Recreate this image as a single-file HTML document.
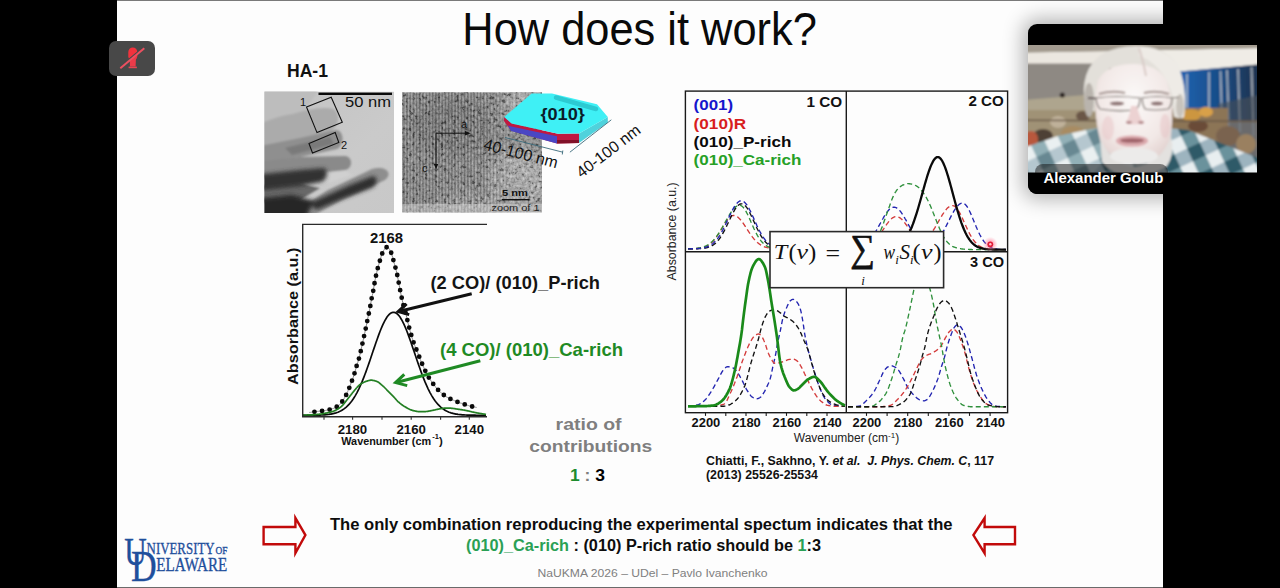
<!DOCTYPE html>
<html><head><meta charset="utf-8"><title>How does it work?</title>
<style>
html,body{margin:0;padding:0;background:#000;width:1280px;height:588px;overflow:hidden;}
#slide{position:absolute;left:117px;top:0;width:1046px;height:588px;background:#fdfdfd;}
#slide .tl{position:absolute;left:0;top:0;width:1046px;height:1px;background:#7a7a7a;}
#slide .bl{position:absolute;left:0;top:587px;width:1046px;height:1px;background:#6a6a6a;}
svg{font-family:'Liberation Sans', Arial, sans-serif;}
#ov{position:absolute;left:0;top:0;}
</style></head>
<body>
<div id="slide"><div class="tl"></div><div class="bl"></div></div>
<svg id="ov" width="1280" height="588" viewBox="0 0 1280 588">
<defs><clipPath id="c1"><rect x="264.4" y="91.6" width="129.6" height="121.4"/></clipPath><filter id="bl1" x="-20%" y="-20%" width="140%" height="140%"><feGaussianBlur stdDeviation="1.3"/></filter><filter id="bl2" x="-20%" y="-20%" width="140%" height="140%"><feGaussianBlur stdDeviation="2.2"/></filter><linearGradient id="t1bg" x1="0" y1="0" x2="1" y2="1"><stop offset="0" stop-color="#c2c2c2"/><stop offset="0.6" stop-color="#cacaca"/><stop offset="1" stop-color="#c8c8c8"/></linearGradient></defs>
<g clip-path="url(#c1)">
<rect x="264.4" y="91.6" width="129.60000000000002" height="121.4" fill="url(#t1bg)"/>
<g filter="url(#bl1)">
<path d="M255 88 L320 88 L300 118 L255 128 Z" fill="#bdbdbd"/>
<path d="M255 126 C270 119 284 115 293 114 C303 111 322 106 333 109 C341 113 339 126 331 131 L300 141 L255 152 Z" fill="#ababab"/>
<path d="M255 147 L300 138 L336 130 C344 130 345 145 337 149 L300 157 L255 164 Z" fill="#8f8f8f"/>
<path d="M285 148 L330 137 L334 144 L292 155 Z" fill="#7a7a7a"/>
<path d="M255 162 L300 157 L345 156 C353 157 353 168 345 170 L300 175 L255 179 Z" fill="#8a8a8a"/>
<path d="M300 178 L346 171 L352 175 L312 188 Z" fill="#d0d0d0"/>
<path d="M255 186 L300 183 L320 188 L300 200 L255 203 Z" fill="#686868"/>
<path d="M288 216 L328 190 L372 169 C387 165 393 174 385 180 L342 200 L312 216 Z" fill="#8e8e8e"/>
</g>
<g filter="url(#bl2)">
<path d="M255 175 L300 170 L324 168 C329 171 327 180 321 182 L300 186 L255 191 Z" fill="#303030"/>
<path d="M255 199 L292 195 L314 201 L306 218 L255 218 Z" fill="#262626"/>
<path d="M310 203 L350 185 L373 176 C379 177 377 186 371 188 L342 199 L316 210 Z" fill="#2e2e2e"/>
</g>
<polygon points="306.5,107 331.2,97.2 342.3,122.2 317,132.6" fill="none" stroke="#111" stroke-width="1.1"/>
<polygon points="309,143.5 335.2,132.5 338.8,142.5 312.5,153" fill="none" stroke="#111" stroke-width="1.1"/>
<text x="300" y="106" font-size="11" font-weight="normal" fill="#111">1</text>
<text x="341" y="149" font-size="11" font-weight="normal" fill="#111">2</text>
<rect x="318.5" y="92.6" width="73.5" height="2.4" fill="#0a0a0a"/>
<text x="345" y="107.2" font-size="14.5" font-weight="normal" fill="#111" textLength="46" lengthAdjust="spacingAndGlyphs">50 nm</text>
</g>
<defs><clipPath id="c2"><rect x="402" y="92.3" width="140" height="120.2"/></clipPath><pattern id="fr" x="0" y="0" width="3.2" height="200" patternUnits="userSpaceOnUse"><rect width="1.3" height="200" fill="#3a3a3a" opacity="0.35"/><rect x="1.6" width="1" height="200" fill="#e0e0e0" opacity="0.18"/></pattern><filter id="nz" x="0" y="0" width="100%" height="100%"><feTurbulence type="fractalNoise" baseFrequency="0.32" numOctaves="2" seed="7"/><feColorMatrix type="matrix" values="1.3 1.3 0 0 -0.9  1.3 1.3 0 0 -0.9  1.3 1.3 0 0 -0.9  0 0 0 0 1"/><feGaussianBlur stdDeviation="0.5"/></filter><filter id="bl3"><feGaussianBlur stdDeviation="6"/></filter><linearGradient id="fmg" x1="0" y1="0" x2="1" y2="0"><stop offset="0" stop-color="#fff"/><stop offset="0.55" stop-color="#fff"/><stop offset="0.85" stop-color="#000"/></linearGradient><mask id="fm" maskUnits="userSpaceOnUse" x="402" y="92" width="140" height="121"><rect x="402" y="92" width="140" height="121" fill="url(#fmg)"/></mask></defs>
<g clip-path="url(#c2)">
<rect x="402" y="92.3" width="140" height="120.2" fill="#7e7e7e"/>
<g filter="url(#bl3)"><ellipse cx="450" cy="125" rx="40" ry="30" fill="#686868"/><ellipse cx="425" cy="185" rx="22" ry="25" fill="#7c7c7c"/><ellipse cx="518" cy="178" rx="30" ry="30" fill="#a8a8a8"/><ellipse cx="525" cy="105" rx="22" ry="18" fill="#a8a8a8"/><ellipse cx="470" cy="205" rx="30" ry="10" fill="#a0a0a0"/></g>
<rect x="402" y="92.3" width="140" height="120.2" filter="url(#nz)" opacity="0.4"/>
<rect x="402" y="92.3" width="140" height="120.2" fill="url(#fr)" mask="url(#fm)"/>
<rect x="402" y="204" width="140" height="9" fill="#dadada" opacity="0.45"/>
<path d="M436 133.2 H468.5 M436 133.2 V166" stroke="#111" stroke-width="1"/>
<path d="M465 131 L470.8 133.2 L465 135.4 Z" fill="#111"/><path d="M433.8 164 L436 169.5 L438.2 164 Z" fill="#111"/>
<text x="461" y="128" font-size="11" fill="#111" font-weight="normal">a</text>
<text x="422" y="172" font-size="11" fill="#111" font-weight="normal">c</text>
<text x="502" y="196" font-size="9.5" fill="#111" font-weight="bold" textLength="26" lengthAdjust="spacingAndGlyphs">5 nm</text>
<rect x="501.8" y="199" width="27.6" height="1.4" fill="#111"/>
<text x="491.5" y="210.8" font-size="9.5" fill="#222" font-weight="normal" textLength="48" lengthAdjust="spacingAndGlyphs">zoom of 1</text>
</g>
<polygon points="504.2,117 504,121 511,130.5 557,143.5 579,143 579,133.5 558,133.8 511.6,123.4" fill="#c01840"/>
<polygon points="507.8,125.6 557,136.2 557,143.5 511,131" fill="#4a46c4"/>
<polygon points="557,140 579,140 579,143 557,143.5" fill="#801028"/>
<polygon points="579,133.5 607.8,117 607.8,122.5 579,143" fill="#4fd2dc"/>
<polygon points="504.2,117 531.7,93.6 552,93.6 597,104.3 607.8,117 579,133.5 558,133.8 511.6,123.4" fill="#3ff0f5"/>
<line x1="556" y1="97.5" x2="596" y2="109" stroke="#2ccad2" stroke-width="4.5" stroke-linecap="round"/>
<text x="540.4" y="119.6" font-size="16" font-weight="bold" fill="#0b1c2a" textLength="44.4" lengthAdjust="spacingAndGlyphs">{010}</text>
<line x1="505" y1="137.5" x2="562.8" y2="152.2" stroke="#3a6a7a" stroke-width="0.9"/><line x1="562.8" y1="150.5" x2="562.3" y2="154.5" stroke="#3a6a7a" stroke-width="0.9"/>
<line x1="569.9" y1="152.2" x2="611.3" y2="119.8" stroke="#3a6a7a" stroke-width="0.9"/>
<text x="0" y="0" font-size="16" fill="#111" font-weight="normal" textLength="76" lengthAdjust="spacingAndGlyphs" transform="translate(482.8 149.2) rotate(14.5)">40-100 nm</text>
<text x="0" y="0" font-size="16" fill="#111" font-weight="normal" textLength="76" lengthAdjust="spacingAndGlyphs" transform="translate(581.5 178.5) rotate(-37.5)">40-100 nm</text>
<path d="M309.2 412.5 L309.7 412.4 L310.2 412.4 L310.7 412.3 L311.2 412.2 L311.7 412.2 L312.2 412.1 L312.7 412.0 L313.2 412.0 L313.7 411.9 L314.2 411.8 L314.7 411.8 L315.2 411.7 L315.7 411.6 L316.2 411.6 L316.7 411.5 L317.2 411.4 L317.7 411.4 L318.2 411.3 L318.7 411.3 L319.2 411.2 L319.7 411.2 L320.2 411.1 L320.7 411.1 L321.2 411.0 L321.7 411.0 L322.2 410.9 L322.7 410.8 L323.2 410.8 L323.7 410.7 L324.2 410.6 L324.7 410.6 L325.2 410.5 L325.7 410.4 L326.2 410.3 L326.7 410.2 L327.2 410.1 L327.7 410.0 L328.2 409.9 L328.7 409.8 L329.2 409.7 L329.7 409.6 L330.2 409.4 L330.7 409.3 L331.2 409.1 L331.7 409.0 L332.2 408.8 L332.7 408.7 L333.2 408.5 L333.7 408.3 L334.2 408.1 L334.7 407.8 L335.2 407.6 L335.7 407.3 L336.2 407.1 L336.7 406.8 L337.2 406.5 L337.7 406.1 L338.2 405.8 L338.7 405.4 L339.2 405.0 L339.7 404.6 L340.2 404.2 L340.7 403.6 L341.2 403.0 L341.7 402.3 L342.2 401.6 L342.7 400.8 L343.2 400.0 L343.7 399.2 L344.2 398.4 L344.7 397.5 L345.2 396.7 L345.7 395.8 L346.2 394.8 L346.7 393.7 L347.2 392.7 L347.7 391.6 L348.2 390.4 L348.7 389.3 L349.2 388.1 L349.7 386.8 L350.2 385.5 L350.7 384.2 L351.2 382.8 L351.7 381.5 L352.2 380.1 L352.7 378.8 L353.2 377.4 L353.7 375.9 L354.2 374.4 L354.7 372.7 L355.2 371.0 L355.7 369.1 L356.2 367.4 L356.7 365.7 L357.2 364.2 L357.7 362.7 L358.2 361.1 L358.7 359.5 L359.2 357.6 L359.7 355.6 L360.2 353.5 L360.7 351.4 L361.2 349.2 L361.7 347.0 L362.2 344.7 L362.7 342.4 L363.2 340.1 L363.7 337.8 L364.2 335.5 L364.7 333.3 L365.2 331.0 L365.7 328.7 L366.2 326.2 L366.7 323.7 L367.2 321.2 L367.7 318.8 L368.2 316.5 L368.7 314.1 L369.2 311.7 L369.7 309.2 L370.2 306.6 L370.7 303.9 L371.2 300.9 L371.7 298.2 L372.2 295.8 L372.7 293.5 L373.2 291.0 L373.7 288.1 L374.2 285.1 L374.7 282.3 L375.2 279.7 L375.7 277.1 L376.2 274.8 L376.7 272.5 L377.2 270.4 L377.7 268.4 L378.2 266.5 L378.7 264.7 L379.2 263.0 L379.7 261.4 L380.2 259.7 L380.7 258.1 L381.2 256.4 L381.7 254.9 L382.2 253.5 L382.7 252.4 L383.2 251.4 L383.7 250.4 L384.2 249.7 L384.7 249.0 L385.2 248.5 L385.7 247.9 L386.2 247.5 L386.7 247.2 L387.2 247.1 L387.7 247.3 L388.2 247.7 L388.7 248.3 L389.2 248.9 L389.7 249.6 L390.2 250.5 L390.7 251.6 L391.2 252.8 L391.7 254.1 L392.2 255.8 L392.7 257.6 L393.2 259.5 L393.7 261.3 L394.2 263.1 L394.7 264.8 L395.2 266.6 L395.7 268.5 L396.2 270.5 L396.7 272.6 L397.2 274.8 L397.7 277.2 L398.2 279.8 L398.7 282.6 L399.2 285.2 L399.7 287.8 L400.2 290.4 L400.7 292.9 L401.2 295.3 L401.7 297.7 L402.2 300.0 L402.7 302.2 L403.2 304.4 L403.7 306.4 L404.2 308.2 L404.7 309.9 L405.2 311.5 L405.7 313.2 L406.2 315.1 L406.7 317.2 L407.2 319.4 L407.7 321.6 L408.2 323.7 L408.7 325.7 L409.2 327.7 L409.7 329.6 L410.2 331.4 L410.7 333.1 L411.2 334.8 L411.7 336.5 L412.2 338.1 L412.7 339.6 L413.2 341.2 L413.7 342.7 L414.2 344.1 L414.7 345.4 L415.2 346.7 L415.7 347.9 L416.2 349.1 L416.7 350.2 L417.2 351.4 L417.7 352.7 L418.2 354.0 L418.7 355.3 L419.2 356.6 L419.7 358.0 L420.2 359.3 L420.7 360.5 L421.2 361.7 L421.7 362.8 L422.2 364.0 L422.7 365.1 L423.2 366.2 L423.7 367.3 L424.2 368.4 L424.7 369.5 L425.2 370.6 L425.7 371.7 L426.2 372.8 L426.7 373.8 L427.2 374.8 L427.7 375.7 L428.2 376.5 L428.7 377.4 L429.2 378.2 L429.7 379.0 L430.2 379.7 L430.7 380.4 L431.2 381.1 L431.7 381.8 L432.2 382.5 L432.7 383.2 L433.2 383.9 L433.7 384.6 L434.2 385.2 L434.7 385.9 L435.2 386.5 L435.7 387.1 L436.2 387.8 L436.7 388.3 L437.2 388.9 L437.7 389.5 L438.2 390.0 L438.7 390.5 L439.2 391.0 L439.7 391.5 L440.2 391.9 L440.7 392.4 L441.2 392.8 L441.7 393.3 L442.2 393.7 L442.7 394.1 L443.2 394.5 L443.7 394.9 L444.2 395.3 L444.7 395.6 L445.2 396.0 L445.7 396.3 L446.2 396.7 L446.7 397.0 L447.2 397.3 L447.7 397.5 L448.2 397.8 L448.7 398.1 L449.2 398.3 L449.7 398.6 L450.2 398.8 L450.7 399.0 L451.2 399.3 L451.7 399.5 L452.2 399.7 L452.7 399.9 L453.2 400.1 L453.7 400.3 L454.2 400.6 L454.7 400.8 L455.2 401.0 L455.7 401.2 L456.2 401.4 L456.7 401.6 L457.2 401.8 L457.7 402.0 L458.2 402.1 L458.7 402.3 L459.2 402.5 L459.7 402.7 L460.2 402.9 L460.7 403.1 L461.2 403.2 L461.7 403.4 L462.2 403.6 L462.7 403.7 L463.2 403.9 L463.7 404.1 L464.2 404.3 L464.7 404.4 L465.2 404.6 L465.7 404.7 L466.2 404.9 L466.7 405.1 L467.2 405.2 L467.7 405.4 L468.2 405.5 L468.7 405.6 L469.2 405.8 L469.7 405.9 L470.2 406.0 L470.7 406.2 L471.2 406.3 L471.7 406.4 L472.2 406.5 L472.7 406.6 L473.2 406.7 L473.7 406.9 L474.2 407.0 L474.7 407.1 L475.2 407.2 L475.7 407.3 L476.2 407.4 L476.7 407.4" fill="none" stroke="#8a8a8a" stroke-width="1"/>
<path d="M309.2 412.5 L309.7 412.4 L310.2 412.4 L310.7 412.3 L311.2 412.2 L311.7 412.2 L312.2 412.1 L312.7 412.0 L313.2 412.0 L313.7 411.9 L314.2 411.8 L314.7 411.8 L315.2 411.7 L315.7 411.6 L316.2 411.6 L316.7 411.5 L317.2 411.4 L317.7 411.4 L318.2 411.3 L318.7 411.3 L319.2 411.2 L319.7 411.2 L320.2 411.1 L320.7 411.1 L321.2 411.0 L321.7 411.0 L322.2 410.9 L322.7 410.8 L323.2 410.8 L323.7 410.7 L324.2 410.6 L324.7 410.6 L325.2 410.5 L325.7 410.4 L326.2 410.3 L326.7 410.2 L327.2 410.1 L327.7 410.0 L328.2 409.9 L328.7 409.8 L329.2 409.7 L329.7 409.6 L330.2 409.4 L330.7 409.3 L331.2 409.1 L331.7 409.0 L332.2 408.8 L332.7 408.7 L333.2 408.5 L333.7 408.3 L334.2 408.1 L334.7 407.8 L335.2 407.6 L335.7 407.3 L336.2 407.1 L336.7 406.8 L337.2 406.5 L337.7 406.1 L338.2 405.8 L338.7 405.4 L339.2 405.0 L339.7 404.6 L340.2 404.2 L340.7 403.6 L341.2 403.0 L341.7 402.3 L342.2 401.6 L342.7 400.8 L343.2 400.0 L343.7 399.2 L344.2 398.4 L344.7 397.5 L345.2 396.7 L345.7 395.8 L346.2 394.8 L346.7 393.7 L347.2 392.7 L347.7 391.6 L348.2 390.4 L348.7 389.3 L349.2 388.1 L349.7 386.8 L350.2 385.5 L350.7 384.2 L351.2 382.8 L351.7 381.5 L352.2 380.1 L352.7 378.8 L353.2 377.4 L353.7 375.9 L354.2 374.4 L354.7 372.7 L355.2 371.0 L355.7 369.1 L356.2 367.4 L356.7 365.7 L357.2 364.2 L357.7 362.7 L358.2 361.1 L358.7 359.5 L359.2 357.6 L359.7 355.6 L360.2 353.5 L360.7 351.4 L361.2 349.2 L361.7 347.0 L362.2 344.7 L362.7 342.4 L363.2 340.1 L363.7 337.8 L364.2 335.5 L364.7 333.3 L365.2 331.0 L365.7 328.7 L366.2 326.2 L366.7 323.7 L367.2 321.2 L367.7 318.8 L368.2 316.5 L368.7 314.1 L369.2 311.7 L369.7 309.2 L370.2 306.6 L370.7 303.9 L371.2 300.9 L371.7 298.2 L372.2 295.8 L372.7 293.5 L373.2 291.0 L373.7 288.1 L374.2 285.1 L374.7 282.3 L375.2 279.7 L375.7 277.1 L376.2 274.8 L376.7 272.5 L377.2 270.4 L377.7 268.4 L378.2 266.5 L378.7 264.7 L379.2 263.0 L379.7 261.4 L380.2 259.7 L380.7 258.1 L381.2 256.4 L381.7 254.9 L382.2 253.5 L382.7 252.4 L383.2 251.4 L383.7 250.4 L384.2 249.7 L384.7 249.0 L385.2 248.5 L385.7 247.9 L386.2 247.5 L386.7 247.2 L387.2 247.1 L387.7 247.3 L388.2 247.7 L388.7 248.3 L389.2 248.9 L389.7 249.6 L390.2 250.5 L390.7 251.6 L391.2 252.8 L391.7 254.1 L392.2 255.8 L392.7 257.6 L393.2 259.5 L393.7 261.3 L394.2 263.1 L394.7 264.8 L395.2 266.6 L395.7 268.5 L396.2 270.5 L396.7 272.6 L397.2 274.8 L397.7 277.2 L398.2 279.8 L398.7 282.6 L399.2 285.2 L399.7 287.8 L400.2 290.4 L400.7 292.9 L401.2 295.3 L401.7 297.7 L402.2 300.0 L402.7 302.2 L403.2 304.4 L403.7 306.4 L404.2 308.2 L404.7 309.9 L405.2 311.5 L405.7 313.2 L406.2 315.1 L406.7 317.2 L407.2 319.4 L407.7 321.6 L408.2 323.7 L408.7 325.7 L409.2 327.7 L409.7 329.6 L410.2 331.4 L410.7 333.1 L411.2 334.8 L411.7 336.5 L412.2 338.1 L412.7 339.6 L413.2 341.2 L413.7 342.7 L414.2 344.1 L414.7 345.4 L415.2 346.7 L415.7 347.9 L416.2 349.1 L416.7 350.2 L417.2 351.4 L417.7 352.7 L418.2 354.0 L418.7 355.3 L419.2 356.6 L419.7 358.0 L420.2 359.3 L420.7 360.5 L421.2 361.7 L421.7 362.8 L422.2 364.0 L422.7 365.1 L423.2 366.2 L423.7 367.3 L424.2 368.4 L424.7 369.5 L425.2 370.6 L425.7 371.7 L426.2 372.8 L426.7 373.8 L427.2 374.8 L427.7 375.7 L428.2 376.5 L428.7 377.4 L429.2 378.2 L429.7 379.0 L430.2 379.7 L430.7 380.4 L431.2 381.1 L431.7 381.8 L432.2 382.5 L432.7 383.2 L433.2 383.9 L433.7 384.6 L434.2 385.2 L434.7 385.9 L435.2 386.5 L435.7 387.1 L436.2 387.8 L436.7 388.3 L437.2 388.9 L437.7 389.5 L438.2 390.0 L438.7 390.5 L439.2 391.0 L439.7 391.5 L440.2 391.9 L440.7 392.4 L441.2 392.8 L441.7 393.3 L442.2 393.7 L442.7 394.1 L443.2 394.5 L443.7 394.9 L444.2 395.3 L444.7 395.6 L445.2 396.0 L445.7 396.3 L446.2 396.7 L446.7 397.0 L447.2 397.3 L447.7 397.5 L448.2 397.8 L448.7 398.1 L449.2 398.3 L449.7 398.6 L450.2 398.8 L450.7 399.0 L451.2 399.3 L451.7 399.5 L452.2 399.7 L452.7 399.9 L453.2 400.1 L453.7 400.3 L454.2 400.6 L454.7 400.8 L455.2 401.0 L455.7 401.2 L456.2 401.4 L456.7 401.6 L457.2 401.8 L457.7 402.0 L458.2 402.1 L458.7 402.3 L459.2 402.5 L459.7 402.7 L460.2 402.9 L460.7 403.1 L461.2 403.2 L461.7 403.4 L462.2 403.6 L462.7 403.7 L463.2 403.9 L463.7 404.1 L464.2 404.3 L464.7 404.4 L465.2 404.6 L465.7 404.7 L466.2 404.9 L466.7 405.1 L467.2 405.2 L467.7 405.4 L468.2 405.5 L468.7 405.6 L469.2 405.8 L469.7 405.9 L470.2 406.0 L470.7 406.2 L471.2 406.3 L471.7 406.4 L472.2 406.5 L472.7 406.6 L473.2 406.7 L473.7 406.9 L474.2 407.0 L474.7 407.1 L475.2 407.2 L475.7 407.3 L476.2 407.4 L476.7 407.4" fill="none" stroke="#0a0a0a" stroke-width="4.8" stroke-linecap="round" stroke-dasharray="0 7.7" stroke-dashoffset="2.37"/>
<path d="M303.0 415.3 L304.0 415.3 L305.0 415.3 L306.0 415.3 L307.0 415.3 L308.0 415.3 L309.0 415.3 L310.0 415.3 L311.0 415.3 L312.0 415.2 L313.0 415.2 L314.0 415.2 L315.0 415.2 L316.0 415.2 L317.0 415.2 L318.0 415.1 L319.0 415.1 L320.0 415.1 L321.0 415.0 L322.0 415.0 L323.0 414.9 L324.0 414.9 L325.0 414.8 L326.0 414.7 L327.0 414.6 L328.0 414.5 L329.0 414.4 L330.0 414.2 L331.0 414.1 L332.0 413.9 L333.0 413.7 L334.0 413.4 L335.0 413.2 L336.0 412.9 L337.0 412.5 L338.0 412.2 L339.0 411.7 L340.0 411.3 L341.0 410.8 L342.0 410.2 L343.0 409.6 L344.0 408.9 L345.0 408.1 L346.0 407.3 L347.0 406.4 L348.0 405.4 L349.0 404.4 L350.0 403.2 L351.0 402.0 L352.0 400.7 L353.0 399.3 L354.0 397.7 L355.0 396.1 L356.0 394.4 L357.0 392.6 L358.0 390.6 L359.0 388.6 L360.0 386.4 L361.0 384.2 L362.0 381.9 L363.0 379.4 L364.0 376.9 L365.0 374.3 L366.0 371.6 L367.0 368.8 L368.0 366.0 L369.0 363.1 L370.0 360.2 L371.0 357.3 L372.0 354.3 L373.0 351.3 L374.0 348.4 L375.0 345.4 L376.0 342.5 L377.0 339.7 L378.0 336.9 L379.0 334.1 L380.0 331.5 L381.0 329.0 L382.0 326.6 L383.0 324.4 L384.0 322.3 L385.0 320.4 L386.0 318.7 L387.0 317.1 L388.0 315.8 L389.0 314.6 L390.0 313.7 L391.0 313.0 L392.0 312.6 L393.0 312.3 L394.0 312.3 L395.0 312.6 L396.0 313.0 L397.0 313.7 L398.0 314.6 L399.0 315.8 L400.0 317.1 L401.0 318.7 L402.0 320.4 L403.0 322.3 L404.0 324.4 L405.0 326.6 L406.0 329.0 L407.0 331.5 L408.0 334.1 L409.0 336.9 L410.0 339.7 L411.0 342.5 L412.0 345.4 L413.0 348.4 L414.0 351.3 L415.0 354.3 L416.0 357.3 L417.0 360.2 L418.0 363.1 L419.0 366.0 L420.0 368.8 L421.0 371.6 L422.0 374.3 L423.0 376.9 L424.0 379.4 L425.0 381.9 L426.0 384.2 L427.0 386.4 L428.0 388.6 L429.0 390.6 L430.0 392.6 L431.0 394.4 L432.0 396.1 L433.0 397.7 L434.0 399.3 L435.0 400.7 L436.0 402.0 L437.0 403.2 L438.0 404.4 L439.0 405.4 L440.0 406.4 L441.0 407.3 L442.0 408.1 L443.0 408.9 L444.0 409.6 L445.0 410.2 L446.0 410.8 L447.0 411.3 L448.0 411.7 L449.0 412.2 L450.0 412.5 L451.0 412.9 L452.0 413.2 L453.0 413.4 L454.0 413.7 L455.0 413.9 L456.0 414.1 L457.0 414.2 L458.0 414.4 L459.0 414.5 L460.0 414.6 L461.0 414.7 L462.0 414.8 L463.0 414.9 L464.0 414.9 L465.0 415.0 L466.0 415.0 L467.0 415.1 L468.0 415.1 L469.0 415.1 L470.0 415.2 L471.0 415.2 L472.0 415.2 L473.0 415.2 L474.0 415.2 L475.0 415.2 L476.0 415.3 L477.0 415.3 L478.0 415.3 L479.0 415.3 L480.0 415.3 L481.0 415.3 L482.0 415.3 L483.0 415.3 L484.0 415.3 L485.0 415.3 L486.0 415.3" fill="none" stroke="#0a0a0a" stroke-width="1.7"/>
<path d="M303.0 415.0 L303.5 415.0 L304.0 415.0 L304.5 415.0 L305.0 415.0 L305.5 415.0 L306.0 415.0 L306.5 415.0 L307.0 415.0 L307.5 414.9 L308.0 414.9 L308.5 414.9 L309.0 414.9 L309.5 414.9 L310.0 414.9 L310.5 414.9 L311.0 414.8 L311.5 414.8 L312.0 414.8 L312.5 414.8 L313.0 414.8 L313.5 414.7 L314.0 414.7 L314.5 414.7 L315.0 414.6 L315.5 414.6 L316.0 414.6 L316.5 414.5 L317.0 414.5 L317.5 414.4 L318.0 414.4 L318.5 414.3 L319.0 414.3 L319.5 414.2 L320.0 414.1 L320.5 414.1 L321.0 414.0 L321.5 414.0 L322.0 413.9 L322.5 413.8 L323.0 413.7 L323.5 413.6 L324.0 413.5 L324.5 413.4 L325.0 413.3 L325.5 413.2 L326.0 413.1 L326.5 413.0 L327.0 412.9 L327.5 412.8 L328.0 412.7 L328.5 412.6 L329.0 412.5 L329.5 412.3 L330.0 412.2 L330.5 412.1 L331.0 412.0 L331.5 411.8 L332.0 411.7 L332.5 411.5 L333.0 411.4 L333.5 411.2 L334.0 411.0 L334.5 410.8 L335.0 410.6 L335.5 410.4 L336.0 410.1 L336.5 409.8 L337.0 409.6 L337.5 409.3 L338.0 409.0 L338.5 408.6 L339.0 408.3 L339.5 407.9 L340.0 407.6 L340.5 407.2 L341.0 406.8 L341.5 406.4 L342.0 405.9 L342.5 405.4 L343.0 404.9 L343.5 404.3 L344.0 403.7 L344.5 403.1 L345.0 402.4 L345.5 401.8 L346.0 401.1 L346.5 400.5 L347.0 399.8 L347.5 399.2 L348.0 398.5 L348.5 397.9 L349.0 397.3 L349.5 396.7 L350.0 396.0 L350.5 395.4 L351.0 394.8 L351.5 394.1 L352.0 393.5 L352.5 392.8 L353.0 392.2 L353.5 391.6 L354.0 391.0 L354.5 390.4 L355.0 389.8 L355.5 389.2 L356.0 388.6 L356.5 388.0 L357.0 387.5 L357.5 386.9 L358.0 386.3 L358.5 385.8 L359.0 385.3 L359.5 384.9 L360.0 384.5 L360.5 384.2 L361.0 383.8 L361.5 383.5 L362.0 383.2 L362.5 382.9 L363.0 382.7 L363.5 382.4 L364.0 382.2 L364.5 382.0 L365.0 381.8 L365.5 381.6 L366.0 381.4 L366.5 381.3 L367.0 381.1 L367.5 380.9 L368.0 380.8 L368.5 380.6 L369.0 380.5 L369.5 380.4 L370.0 380.3 L370.5 380.2 L371.0 380.2 L371.5 380.2 L372.0 380.2 L372.5 380.3 L373.0 380.4 L373.5 380.5 L374.0 380.6 L374.5 380.7 L375.0 380.8 L375.5 381.0 L376.0 381.2 L376.5 381.3 L377.0 381.5 L377.5 381.7 L378.0 382.0 L378.5 382.3 L379.0 382.7 L379.5 383.1 L380.0 383.5 L380.5 383.9 L381.0 384.3 L381.5 384.8 L382.0 385.2 L382.5 385.7 L383.0 386.1 L383.5 386.5 L384.0 387.0 L384.5 387.5 L385.0 388.0 L385.5 388.5 L386.0 389.0 L386.5 389.5 L387.0 390.1 L387.5 390.6 L388.0 391.1 L388.5 391.6 L389.0 392.1 L389.5 392.6 L390.0 393.1 L390.5 393.6 L391.0 394.1 L391.5 394.6 L392.0 395.1 L392.5 395.6 L393.0 396.1 L393.5 396.6 L394.0 397.2 L394.5 397.7 L395.0 398.3 L395.5 398.9 L396.0 399.4 L396.5 400.0 L397.0 400.5 L397.5 401.1 L398.0 401.6 L398.5 402.0 L399.0 402.4 L399.5 402.9 L400.0 403.3 L400.5 403.7 L401.0 404.1 L401.5 404.5 L402.0 404.8 L402.5 405.2 L403.0 405.5 L403.5 405.9 L404.0 406.2 L404.5 406.5 L405.0 406.8 L405.5 407.1 L406.0 407.4 L406.5 407.6 L407.0 407.9 L407.5 408.2 L408.0 408.5 L408.5 408.7 L409.0 409.0 L409.5 409.2 L410.0 409.5 L410.5 409.7 L411.0 409.9 L411.5 410.1 L412.0 410.3 L412.5 410.4 L413.0 410.6 L413.5 410.7 L414.0 410.8 L414.5 410.9 L415.0 411.0 L415.5 411.1 L416.0 411.2 L416.5 411.3 L417.0 411.4 L417.5 411.5 L418.0 411.6 L418.5 411.6 L419.0 411.7 L419.5 411.7 L420.0 411.7 L420.5 411.7 L421.0 411.7 L421.5 411.7 L422.0 411.7 L422.5 411.7 L423.0 411.7 L423.5 411.6 L424.0 411.6 L424.5 411.6 L425.0 411.6 L425.5 411.6 L426.0 411.5 L426.5 411.5 L427.0 411.4 L427.5 411.3 L428.0 411.3 L428.5 411.2 L429.0 411.1 L429.5 411.0 L430.0 410.9 L430.5 410.8 L431.0 410.7 L431.5 410.6 L432.0 410.5 L432.5 410.4 L433.0 410.3 L433.5 410.2 L434.0 410.1 L434.5 410.0 L435.0 409.9 L435.5 409.7 L436.0 409.6 L436.5 409.5 L437.0 409.4 L437.5 409.3 L438.0 409.2 L438.5 409.1 L439.0 409.0 L439.5 408.9 L440.0 408.8 L440.5 408.7 L441.0 408.6 L441.5 408.6 L442.0 408.5 L442.5 408.4 L443.0 408.3 L443.5 408.3 L444.0 408.2 L444.5 408.2 L445.0 408.1 L445.5 408.1 L446.0 408.1 L446.5 408.1 L447.0 408.1 L447.5 408.1 L448.0 408.1 L448.5 408.1 L449.0 408.2 L449.5 408.2 L450.0 408.2 L450.5 408.2 L451.0 408.2 L451.5 408.3 L452.0 408.3 L452.5 408.4 L453.0 408.4 L453.5 408.5 L454.0 408.6 L454.5 408.7 L455.0 408.7 L455.5 408.8 L456.0 408.9 L456.5 409.0 L457.0 409.1 L457.5 409.1 L458.0 409.2 L458.5 409.3 L459.0 409.3 L459.5 409.4 L460.0 409.5 L460.5 409.6 L461.0 409.6 L461.5 409.7 L462.0 409.8 L462.5 409.9 L463.0 410.0 L463.5 410.0 L464.0 410.1 L464.5 410.2 L465.0 410.3 L465.5 410.4 L466.0 410.5 L466.5 410.6 L467.0 410.7 L467.5 410.8 L468.0 410.9 L468.5 411.0 L469.0 411.1 L469.5 411.3 L470.0 411.4 L470.5 411.5 L471.0 411.6 L471.5 411.7 L472.0 411.9 L472.5 412.0 L473.0 412.1 L473.5 412.2 L474.0 412.3 L474.5 412.4 L475.0 412.5 L475.5 412.6 L476.0 412.7 L476.5 412.8 L477.0 412.9 L477.5 413.0 L478.0 413.1 L478.5 413.2 L479.0 413.3 L479.5 413.3 L480.0 413.4 L480.5 413.5 L481.0 413.6 L481.5 413.7 L482.0 413.8 L482.5 413.9 L483.0 413.9 L483.5 414.0 L484.0 414.1 L484.5 414.2 L485.0 414.3 L485.5 414.3 L486.0 414.4" fill="none" stroke="#237f23" stroke-width="1.7"/>
<path d="M487 224.4 H302.7 V416.7 H487" fill="none" stroke="#2a2a2a" stroke-width="1.4"/>
<line x1="324" y1="416.7" x2="324" y2="419.8" stroke="#333" stroke-width="1.1"/>
<line x1="352.6" y1="416.7" x2="352.6" y2="419.8" stroke="#333" stroke-width="1.1"/>
<line x1="382" y1="416.7" x2="382" y2="419.8" stroke="#333" stroke-width="1.1"/>
<line x1="411.2" y1="416.7" x2="411.2" y2="419.8" stroke="#333" stroke-width="1.1"/>
<line x1="440.6" y1="416.7" x2="440.6" y2="419.8" stroke="#333" stroke-width="1.1"/>
<line x1="469.3" y1="416.7" x2="469.3" y2="419.8" stroke="#333" stroke-width="1.1"/>
<text x="352.4" y="433.6" font-size="13.3" font-weight="bold" fill="#111" text-anchor="middle" textLength="29.5" lengthAdjust="spacingAndGlyphs">2180</text>
<text x="411.2" y="433.6" font-size="13.3" font-weight="bold" fill="#111" text-anchor="middle" textLength="29.5" lengthAdjust="spacingAndGlyphs">2160</text>
<text x="469.3" y="433.6" font-size="13.3" font-weight="bold" fill="#111" text-anchor="middle" textLength="29.5" lengthAdjust="spacingAndGlyphs">2140</text>
<text x="341.3" y="444.6" font-size="11.4" font-weight="bold" fill="#111" textLength="89.8" lengthAdjust="spacingAndGlyphs">Wavenumber (cm</text><text x="432.2" y="439" font-size="7.5" font-weight="bold" fill="#111">-1</text><text x="439" y="445" font-size="11.4" font-weight="bold" fill="#111">)</text>
<text x="0" y="0" font-size="15" font-weight="bold" fill="#111" text-anchor="middle" textLength="137.5" lengthAdjust="spacingAndGlyphs" transform="translate(297.9 316.3) rotate(-90)">Absorbance (a.u.)</text>
<text x="386.6" y="242.8" font-size="15.4" font-weight="bold" fill="#111" text-anchor="middle" textLength="33" lengthAdjust="spacingAndGlyphs">2168</text>
<line x1="471.7" y1="293.8" x2="399.7" y2="311.2" stroke="#111" stroke-width="3"/><polyline points="406.6,303.9 398.2,311.6 409.2,314.6" fill="none" stroke="#111" stroke-width="3" stroke-linejoin="miter" stroke-linecap="butt"/>
<line x1="480.3" y1="360.7" x2="397.1" y2="382.2" stroke="#1f8a24" stroke-width="3"/><polyline points="404.3,374.4 395.6,382.6 407.2,385.6" fill="none" stroke="#1f8a24" stroke-width="3" stroke-linejoin="miter" stroke-linecap="butt"/>
<text x="430.5" y="288.6" font-size="18.5" font-weight="bold" fill="#141414" textLength="169.5" lengthAdjust="spacingAndGlyphs">(2 CO)/ (010)_P-rich</text>
<text x="440" y="356.4" font-size="18.5" font-weight="bold" fill="#1f8a24" textLength="183" lengthAdjust="spacingAndGlyphs">(4 CO)/ (010)_Ca-rich</text>
<path d="M688.0 248.8 L688.5 248.8 L689.0 248.8 L689.5 248.8 L690.0 248.8 L690.5 248.7 L691.0 248.7 L691.5 248.7 L692.0 248.7 L692.5 248.7 L693.0 248.7 L693.5 248.7 L694.0 248.7 L694.5 248.6 L695.0 248.6 L695.5 248.6 L696.0 248.6 L696.5 248.5 L697.0 248.5 L697.5 248.4 L698.0 248.4 L698.5 248.3 L699.0 248.3 L699.5 248.2 L700.0 248.2 L700.5 248.1 L701.0 248.0 L701.5 247.9 L702.0 247.8 L702.5 247.7 L703.0 247.5 L703.5 247.4 L704.0 247.2 L704.5 247.1 L705.0 246.9 L705.5 246.7 L706.0 246.5 L706.5 246.2 L707.0 246.0 L707.5 245.7 L708.0 245.4 L708.5 245.1 L709.0 244.8 L709.5 244.4 L710.0 244.1 L710.5 243.7 L711.0 243.2 L711.5 242.8 L712.0 242.3 L712.5 241.8 L713.0 241.3 L713.5 240.7 L714.0 240.1 L714.5 239.5 L715.0 238.9 L715.5 238.3 L716.0 237.6 L716.5 236.9 L717.0 236.2 L717.5 235.4 L718.0 234.7 L718.5 233.9 L719.0 233.1 L719.5 232.3 L720.0 231.4 L720.5 230.6 L721.0 229.8 L721.5 228.9 L722.0 228.1 L722.5 227.3 L723.0 226.4 L723.5 225.6 L724.0 224.8 L724.5 224.0 L725.0 223.2 L725.5 222.4 L726.0 221.7 L726.5 221.0 L727.0 220.3 L727.5 219.7 L728.0 219.1 L728.5 218.5 L729.0 218.0 L729.5 217.5 L730.0 217.0 L730.5 216.7 L731.0 216.3 L731.5 216.1 L732.0 215.8 L732.5 215.7 L733.0 215.6 L733.5 215.5 L734.0 215.5 L734.5 215.6 L735.0 215.7 L735.5 215.8 L736.0 216.0 L736.5 216.3 L737.0 216.6 L737.5 216.9 L738.0 217.3 L738.5 217.7 L739.0 218.2 L739.5 218.7 L740.0 219.2 L740.5 219.8 L741.0 220.4 L741.5 221.0 L742.0 221.6 L742.5 222.3 L743.0 223.0 L743.5 223.7 L744.0 224.5 L744.5 225.2 L745.0 226.0 L745.5 226.7 L746.0 227.5 L746.5 228.3 L747.0 229.1 L747.5 229.8 L748.0 230.6 L748.5 231.4 L749.0 232.1 L749.5 232.9 L750.0 233.6 L750.5 234.4 L751.0 235.1 L751.5 235.8 L752.0 236.4 L752.5 237.1 L753.0 237.7 L753.5 238.4 L754.0 239.0 L754.5 239.5 L755.0 240.1 L755.5 240.6 L756.0 241.2 L756.5 241.6 L757.0 242.1 L757.5 242.6 L758.0 243.0 L758.5 243.4 L759.0 243.8 L759.5 244.2 L760.0 244.5 L760.5 244.8 L761.0 245.1 L761.5 245.4 L762.0 245.7 L762.5 245.9 L763.0 246.2 L763.5 246.4 L764.0 246.6 L764.5 246.8 L765.0 247.0 L765.5 247.1 L766.0 247.3 L766.5 247.4 L767.0 247.5 L767.5 247.7 L768.0 247.8 L768.5 247.9 L769.0 248.0 L769.5 248.0 L770.0 248.1 L770.5 248.2 L771.0 248.3 L771.5 248.3 L772.0 248.4 L772.5 248.4 L773.0 248.5 L773.5 248.5 L774.0 248.5 L774.5 248.6 L775.0 248.6 L775.5 248.6 L776.0 248.6 L776.5 248.7 L777.0 248.7 L777.5 248.7 L778.0 248.7 L778.5 248.7 L779.0 248.7 L779.5 248.7 L780.0 248.7 L780.5 248.7 L781.0 248.8 L781.5 248.8 L782.0 248.8 L782.5 248.8 L783.0 248.8 L783.5 248.8 L784.0 248.8 L784.5 248.8 L785.0 248.8 L785.5 248.8 L786.0 248.8 L786.5 248.8 L787.0 248.8 L787.5 248.8 L788.0 248.8 L788.5 248.8 L789.0 248.8 L789.5 248.8 L790.0 248.8 L790.5 248.8 L791.0 248.8 L791.5 248.8 L792.0 248.8 L792.5 248.8 L793.0 248.8 L793.5 248.8 L794.0 248.8 L794.5 248.8 L795.0 248.8 L795.5 248.8 L796.0 248.8 L796.5 248.8 L797.0 248.8 L797.5 248.8 L798.0 248.8 L798.5 248.8 L799.0 248.8 L799.5 248.8 L800.0 248.8 L800.5 248.8 L801.0 248.8 L801.5 248.8 L802.0 248.8 L802.5 248.8 L803.0 248.8 L803.5 248.8 L804.0 248.8 L804.5 248.8 L805.0 248.8 L805.5 248.8 L806.0 248.8 L806.5 248.8 L807.0 248.8 L807.5 248.8 L808.0 248.8 L808.5 248.8 L809.0 248.8 L809.5 248.8 L810.0 248.8 L810.5 248.8 L811.0 248.8 L811.5 248.8 L812.0 248.8 L812.5 248.8 L813.0 248.8 L813.5 248.8 L814.0 248.8 L814.5 248.8 L815.0 248.8 L815.5 248.8 L816.0 248.8 L816.5 248.8 L817.0 248.8 L817.5 248.8 L818.0 248.8 L818.5 248.8 L819.0 248.8 L819.5 248.8 L820.0 248.8 L820.5 248.8 L821.0 248.8 L821.5 248.8 L822.0 248.8 L822.5 248.8 L823.0 248.8 L823.5 248.8 L824.0 248.8 L824.5 248.8 L825.0 248.8 L825.5 248.8 L826.0 248.8 L826.5 248.8 L827.0 248.8 L827.5 248.8 L828.0 248.8 L828.5 248.8 L829.0 248.8 L829.5 248.8 L830.0 248.8 L830.5 248.8 L831.0 248.8 L831.5 248.8 L832.0 248.8 L832.5 248.8 L833.0 248.8 L833.5 248.8 L834.0 248.8 L834.5 248.8 L835.0 248.8 L835.5 248.8 L836.0 248.8 L836.5 248.8 L837.0 248.8 L837.5 248.8 L838.0 248.8 L838.5 248.8 L839.0 248.8 L839.5 248.8 L840.0 248.8 L840.5 248.8 L841.0 248.8 L841.5 248.8 L842.0 248.8 L842.5 248.8 L843.0 248.8 L843.5 248.8 L844.0 248.8 L844.5 248.8 L845.0 248.8" fill="none" stroke="#d43c3c" stroke-width="1.35" stroke-dasharray="5 3.1"/>
<path d="M688.0 248.7 L688.5 248.7 L689.0 248.7 L689.5 248.7 L690.0 248.7 L690.5 248.7 L691.0 248.6 L691.5 248.6 L692.0 248.6 L692.5 248.6 L693.0 248.6 L693.5 248.5 L694.0 248.5 L694.5 248.5 L695.0 248.4 L695.5 248.4 L696.0 248.3 L696.5 248.3 L697.0 248.2 L697.5 248.2 L698.0 248.1 L698.5 248.0 L699.0 247.9 L699.5 247.8 L700.0 247.8 L700.5 247.7 L701.0 247.5 L701.5 247.4 L702.0 247.3 L702.5 247.2 L703.0 247.0 L703.5 246.8 L704.0 246.7 L704.5 246.5 L705.0 246.3 L705.5 246.1 L706.0 245.8 L706.5 245.6 L707.0 245.3 L707.5 245.0 L708.0 244.8 L708.5 244.4 L709.0 244.1 L709.5 243.8 L710.0 243.4 L710.5 243.0 L711.0 242.6 L711.5 242.1 L712.0 241.7 L712.5 241.2 L713.0 240.7 L713.5 240.2 L714.0 239.6 L714.5 239.1 L715.0 238.5 L715.5 237.9 L716.0 237.2 L716.5 236.6 L717.0 235.9 L717.5 235.2 L718.0 234.5 L718.5 233.7 L719.0 232.9 L719.5 232.2 L720.0 231.4 L720.5 230.5 L721.0 229.7 L721.5 228.8 L722.0 228.0 L722.5 227.1 L723.0 226.2 L723.5 225.3 L724.0 224.4 L724.5 223.5 L725.0 222.6 L725.5 221.7 L726.0 220.8 L726.5 219.9 L727.0 219.0 L727.5 218.1 L728.0 217.2 L728.5 216.3 L729.0 215.5 L729.5 214.7 L730.0 213.9 L730.5 213.1 L731.0 212.3 L731.5 211.6 L732.0 210.9 L732.5 210.2 L733.0 209.6 L733.5 209.0 L734.0 208.4 L734.5 207.9 L735.0 207.4 L735.5 207.0 L736.0 206.6 L736.5 206.3 L737.0 206.0 L737.5 205.8 L738.0 205.6 L738.5 205.4 L739.0 205.3 L739.5 205.3 L740.0 205.3 L740.5 205.4 L741.0 205.6 L741.5 205.9 L742.0 206.2 L742.5 206.6 L743.0 207.1 L743.5 207.7 L744.0 208.3 L744.5 209.0 L745.0 209.8 L745.5 210.6 L746.0 211.4 L746.5 212.4 L747.0 213.3 L747.5 214.3 L748.0 215.3 L748.5 216.4 L749.0 217.5 L749.5 218.6 L750.0 219.7 L750.5 220.8 L751.0 222.0 L751.5 223.1 L752.0 224.2 L752.5 225.4 L753.0 226.5 L753.5 227.6 L754.0 228.7 L754.5 229.7 L755.0 230.8 L755.5 231.8 L756.0 232.8 L756.5 233.7 L757.0 234.7 L757.5 235.6 L758.0 236.4 L758.5 237.3 L759.0 238.1 L759.5 238.8 L760.0 239.5 L760.5 240.2 L761.0 240.9 L761.5 241.5 L762.0 242.1 L762.5 242.6 L763.0 243.1 L763.5 243.6 L764.0 244.0 L764.5 244.5 L765.0 244.8 L765.5 245.2 L766.0 245.5 L766.5 245.8 L767.0 246.1 L767.5 246.4 L768.0 246.6 L768.5 246.8 L769.0 247.0 L769.5 247.2 L770.0 247.4 L770.5 247.5 L771.0 247.7 L771.5 247.8 L772.0 247.9 L772.5 248.0 L773.0 248.1 L773.5 248.2 L774.0 248.3 L774.5 248.3 L775.0 248.4 L775.5 248.4 L776.0 248.5 L776.5 248.5 L777.0 248.6 L777.5 248.6 L778.0 248.6 L778.5 248.6 L779.0 248.7 L779.5 248.7 L780.0 248.7 L780.5 248.7 L781.0 248.7 L781.5 248.7 L782.0 248.7 L782.5 248.8 L783.0 248.8 L783.5 248.8 L784.0 248.8 L784.5 248.8 L785.0 248.8 L785.5 248.8 L786.0 248.8 L786.5 248.8 L787.0 248.8 L787.5 248.8 L788.0 248.8 L788.5 248.8 L789.0 248.8 L789.5 248.8 L790.0 248.8 L790.5 248.8 L791.0 248.8 L791.5 248.8 L792.0 248.8 L792.5 248.8 L793.0 248.8 L793.5 248.8 L794.0 248.8 L794.5 248.8 L795.0 248.8 L795.5 248.8 L796.0 248.8 L796.5 248.8 L797.0 248.8 L797.5 248.8 L798.0 248.8 L798.5 248.8 L799.0 248.8 L799.5 248.8 L800.0 248.8 L800.5 248.8 L801.0 248.8 L801.5 248.8 L802.0 248.8 L802.5 248.8 L803.0 248.8 L803.5 248.8 L804.0 248.8 L804.5 248.8 L805.0 248.8 L805.5 248.8 L806.0 248.8 L806.5 248.8 L807.0 248.8 L807.5 248.8 L808.0 248.8 L808.5 248.8 L809.0 248.8 L809.5 248.8 L810.0 248.8 L810.5 248.8 L811.0 248.8 L811.5 248.8 L812.0 248.8 L812.5 248.8 L813.0 248.8 L813.5 248.8 L814.0 248.8 L814.5 248.8 L815.0 248.8 L815.5 248.8 L816.0 248.8 L816.5 248.8 L817.0 248.8 L817.5 248.8 L818.0 248.8 L818.5 248.8 L819.0 248.8 L819.5 248.8 L820.0 248.8 L820.5 248.8 L821.0 248.8 L821.5 248.8 L822.0 248.8 L822.5 248.8 L823.0 248.8 L823.5 248.8 L824.0 248.8 L824.5 248.8 L825.0 248.8 L825.5 248.8 L826.0 248.8 L826.5 248.8 L827.0 248.8 L827.5 248.8 L828.0 248.8 L828.5 248.8 L829.0 248.8 L829.5 248.8 L830.0 248.8 L830.5 248.8 L831.0 248.8 L831.5 248.8 L832.0 248.8 L832.5 248.8 L833.0 248.8 L833.5 248.8 L834.0 248.8 L834.5 248.8 L835.0 248.8 L835.5 248.8 L836.0 248.8 L836.5 248.8 L837.0 248.8 L837.5 248.8 L838.0 248.8 L838.5 248.8 L839.0 248.8 L839.5 248.8 L840.0 248.8 L840.5 248.8 L841.0 248.8 L841.5 248.8 L842.0 248.8 L842.5 248.8 L843.0 248.8 L843.5 248.8 L844.0 248.8 L844.5 248.8 L845.0 248.8" fill="none" stroke="#2f903c" stroke-width="1.35" stroke-dasharray="5 3.1"/>
<path d="M688.0 248.8 L688.5 248.8 L689.0 248.8 L689.5 248.8 L690.0 248.8 L690.5 248.8 L691.0 248.8 L691.5 248.8 L692.0 248.8 L692.5 248.8 L693.0 248.8 L693.5 248.8 L694.0 248.8 L694.5 248.7 L695.0 248.7 L695.5 248.7 L696.0 248.7 L696.5 248.7 L697.0 248.7 L697.5 248.7 L698.0 248.7 L698.5 248.6 L699.0 248.6 L699.5 248.6 L700.0 248.6 L700.5 248.5 L701.0 248.5 L701.5 248.5 L702.0 248.4 L702.5 248.4 L703.0 248.3 L703.5 248.3 L704.0 248.2 L704.5 248.1 L705.0 248.0 L705.5 248.0 L706.0 247.9 L706.5 247.8 L707.0 247.6 L707.5 247.5 L708.0 247.4 L708.5 247.2 L709.0 247.0 L709.5 246.9 L710.0 246.7 L710.5 246.4 L711.0 246.2 L711.5 246.0 L712.0 245.7 L712.5 245.4 L713.0 245.1 L713.5 244.8 L714.0 244.4 L714.5 244.0 L715.0 243.6 L715.5 243.2 L716.0 242.7 L716.5 242.2 L717.0 241.7 L717.5 241.2 L718.0 240.6 L718.5 240.0 L719.0 239.3 L719.5 238.7 L720.0 238.0 L720.5 237.2 L721.0 236.5 L721.5 235.7 L722.0 234.9 L722.5 234.0 L723.0 233.1 L723.5 232.2 L724.0 231.3 L724.5 230.4 L725.0 229.4 L725.5 228.4 L726.0 227.4 L726.5 226.4 L727.0 225.3 L727.5 224.3 L728.0 223.2 L728.5 222.1 L729.0 221.1 L729.5 220.0 L730.0 219.0 L730.5 217.9 L731.0 216.9 L731.5 215.8 L732.0 214.8 L732.5 213.8 L733.0 212.9 L733.5 212.0 L734.0 211.1 L734.5 210.2 L735.0 209.4 L735.5 208.6 L736.0 207.9 L736.5 207.2 L737.0 206.6 L737.5 206.1 L738.0 205.5 L738.5 205.1 L739.0 204.7 L739.5 204.4 L740.0 204.2 L740.5 204.0 L741.0 203.8 L741.5 203.8 L742.0 203.8 L742.5 203.9 L743.0 204.1 L743.5 204.3 L744.0 204.6 L744.5 205.0 L745.0 205.5 L745.5 206.0 L746.0 206.6 L746.5 207.2 L747.0 207.9 L747.5 208.7 L748.0 209.5 L748.5 210.4 L749.0 211.2 L749.5 212.2 L750.0 213.2 L750.5 214.2 L751.0 215.2 L751.5 216.3 L752.0 217.3 L752.5 218.4 L753.0 219.5 L753.5 220.6 L754.0 221.7 L754.5 222.8 L755.0 223.9 L755.5 225.0 L756.0 226.1 L756.5 227.2 L757.0 228.2 L757.5 229.3 L758.0 230.3 L758.5 231.3 L759.0 232.3 L759.5 233.2 L760.0 234.1 L760.5 235.0 L761.0 235.8 L761.5 236.6 L762.0 237.4 L762.5 238.2 L763.0 238.9 L763.5 239.6 L764.0 240.2 L764.5 240.8 L765.0 241.4 L765.5 242.0 L766.0 242.5 L766.5 243.0 L767.0 243.5 L767.5 243.9 L768.0 244.3 L768.5 244.7 L769.0 245.0 L769.5 245.4 L770.0 245.7 L770.5 246.0 L771.0 246.2 L771.5 246.5 L772.0 246.7 L772.5 246.9 L773.0 247.1 L773.5 247.2 L774.0 247.4 L774.5 247.5 L775.0 247.7 L775.5 247.8 L776.0 247.9 L776.5 248.0 L777.0 248.1 L777.5 248.2 L778.0 248.2 L778.5 248.3 L779.0 248.4 L779.5 248.4 L780.0 248.5 L780.5 248.5 L781.0 248.5 L781.5 248.6 L782.0 248.6 L782.5 248.6 L783.0 248.6 L783.5 248.7 L784.0 248.7 L784.5 248.7 L785.0 248.7 L785.5 248.7 L786.0 248.7 L786.5 248.7 L787.0 248.8 L787.5 248.8 L788.0 248.8 L788.5 248.8 L789.0 248.8 L789.5 248.8 L790.0 248.8 L790.5 248.8 L791.0 248.8 L791.5 248.8 L792.0 248.8 L792.5 248.8 L793.0 248.8 L793.5 248.8 L794.0 248.8 L794.5 248.8 L795.0 248.8 L795.5 248.8 L796.0 248.8 L796.5 248.8 L797.0 248.8 L797.5 248.8 L798.0 248.8 L798.5 248.8 L799.0 248.8 L799.5 248.8 L800.0 248.8 L800.5 248.8 L801.0 248.8 L801.5 248.8 L802.0 248.8 L802.5 248.8 L803.0 248.8 L803.5 248.8 L804.0 248.8 L804.5 248.8 L805.0 248.8 L805.5 248.8 L806.0 248.8 L806.5 248.8 L807.0 248.8 L807.5 248.8 L808.0 248.8 L808.5 248.8 L809.0 248.8 L809.5 248.8 L810.0 248.8 L810.5 248.8 L811.0 248.8 L811.5 248.8 L812.0 248.8 L812.5 248.8 L813.0 248.8 L813.5 248.8 L814.0 248.8 L814.5 248.8 L815.0 248.8 L815.5 248.8 L816.0 248.8 L816.5 248.8 L817.0 248.8 L817.5 248.8 L818.0 248.8 L818.5 248.8 L819.0 248.8 L819.5 248.8 L820.0 248.8 L820.5 248.8 L821.0 248.8 L821.5 248.8 L822.0 248.8 L822.5 248.8 L823.0 248.8 L823.5 248.8 L824.0 248.8 L824.5 248.8 L825.0 248.8 L825.5 248.8 L826.0 248.8 L826.5 248.8 L827.0 248.8 L827.5 248.8 L828.0 248.8 L828.5 248.8 L829.0 248.8 L829.5 248.8 L830.0 248.8 L830.5 248.8 L831.0 248.8 L831.5 248.8 L832.0 248.8 L832.5 248.8 L833.0 248.8 L833.5 248.8 L834.0 248.8 L834.5 248.8 L835.0 248.8 L835.5 248.8 L836.0 248.8 L836.5 248.8 L837.0 248.8 L837.5 248.8 L838.0 248.8 L838.5 248.8 L839.0 248.8 L839.5 248.8 L840.0 248.8 L840.5 248.8 L841.0 248.8 L841.5 248.8 L842.0 248.8 L842.5 248.8 L843.0 248.8 L843.5 248.8 L844.0 248.8 L844.5 248.8 L845.0 248.8" fill="none" stroke="#111" stroke-width="1.35" stroke-dasharray="5 3.1"/>
<path d="M688.0 248.8 L688.5 248.8 L689.0 248.8 L689.5 248.8 L690.0 248.8 L690.5 248.8 L691.0 248.8 L691.5 248.7 L692.0 248.7 L692.5 248.7 L693.0 248.7 L693.5 248.7 L694.0 248.7 L694.5 248.7 L695.0 248.7 L695.5 248.6 L696.0 248.6 L696.5 248.6 L697.0 248.6 L697.5 248.6 L698.0 248.5 L698.5 248.5 L699.0 248.4 L699.5 248.4 L700.0 248.4 L700.5 248.3 L701.0 248.2 L701.5 248.2 L702.0 248.1 L702.5 248.0 L703.0 247.9 L703.5 247.8 L704.0 247.7 L704.5 247.6 L705.0 247.5 L705.5 247.4 L706.0 247.2 L706.5 247.1 L707.0 246.9 L707.5 246.7 L708.0 246.5 L708.5 246.3 L709.0 246.1 L709.5 245.8 L710.0 245.5 L710.5 245.2 L711.0 244.9 L711.5 244.6 L712.0 244.2 L712.5 243.9 L713.0 243.5 L713.5 243.0 L714.0 242.6 L714.5 242.1 L715.0 241.6 L715.5 241.1 L716.0 240.5 L716.5 239.9 L717.0 239.3 L717.5 238.7 L718.0 238.0 L718.5 237.3 L719.0 236.5 L719.5 235.8 L720.0 235.0 L720.5 234.2 L721.0 233.3 L721.5 232.4 L722.0 231.5 L722.5 230.6 L723.0 229.6 L723.5 228.7 L724.0 227.7 L724.5 226.7 L725.0 225.6 L725.5 224.6 L726.0 223.5 L726.5 222.5 L727.0 221.4 L727.5 220.3 L728.0 219.3 L728.5 218.2 L729.0 217.1 L729.5 216.0 L730.0 215.0 L730.5 213.9 L731.0 212.9 L731.5 211.9 L732.0 210.9 L732.5 210.0 L733.0 209.1 L733.5 208.2 L734.0 207.3 L734.5 206.5 L735.0 205.8 L735.5 205.0 L736.0 204.4 L736.5 203.7 L737.0 203.2 L737.5 202.7 L738.0 202.2 L738.5 201.8 L739.0 201.5 L739.5 201.2 L740.0 201.0 L740.5 200.9 L741.0 200.8 L741.5 200.8 L742.0 200.9 L742.5 201.0 L743.0 201.2 L743.5 201.5 L744.0 201.8 L744.5 202.2 L745.0 202.7 L745.5 203.2 L746.0 203.8 L746.5 204.5 L747.0 205.2 L747.5 206.0 L748.0 206.8 L748.5 207.6 L749.0 208.5 L749.5 209.5 L750.0 210.4 L750.5 211.4 L751.0 212.5 L751.5 213.5 L752.0 214.6 L752.5 215.7 L753.0 216.8 L753.5 217.9 L754.0 219.0 L754.5 220.1 L755.0 221.3 L755.5 222.4 L756.0 223.5 L756.5 224.6 L757.0 225.7 L757.5 226.7 L758.0 227.8 L758.5 228.8 L759.0 229.8 L759.5 230.8 L760.0 231.7 L760.5 232.7 L761.0 233.6 L761.5 234.4 L762.0 235.3 L762.5 236.1 L763.0 236.9 L763.5 237.6 L764.0 238.3 L764.5 239.0 L765.0 239.7 L765.5 240.3 L766.0 240.9 L766.5 241.5 L767.0 242.0 L767.5 242.5 L768.0 243.0 L768.5 243.4 L769.0 243.8 L769.5 244.2 L770.0 244.6 L770.5 244.9 L771.0 245.3 L771.5 245.6 L772.0 245.8 L772.5 246.1 L773.0 246.3 L773.5 246.6 L774.0 246.8 L774.5 247.0 L775.0 247.1 L775.5 247.3 L776.0 247.4 L776.5 247.6 L777.0 247.7 L777.5 247.8 L778.0 247.9 L778.5 248.0 L779.0 248.1 L779.5 248.2 L780.0 248.2 L780.5 248.3 L781.0 248.3 L781.5 248.4 L782.0 248.4 L782.5 248.5 L783.0 248.5 L783.5 248.6 L784.0 248.6 L784.5 248.6 L785.0 248.6 L785.5 248.7 L786.0 248.7 L786.5 248.7 L787.0 248.7 L787.5 248.7 L788.0 248.7 L788.5 248.7 L789.0 248.7 L789.5 248.8 L790.0 248.8 L790.5 248.8 L791.0 248.8 L791.5 248.8 L792.0 248.8 L792.5 248.8 L793.0 248.8 L793.5 248.8 L794.0 248.8 L794.5 248.8 L795.0 248.8 L795.5 248.8 L796.0 248.8 L796.5 248.8 L797.0 248.8 L797.5 248.8 L798.0 248.8 L798.5 248.8 L799.0 248.8 L799.5 248.8 L800.0 248.8 L800.5 248.8 L801.0 248.8 L801.5 248.8 L802.0 248.8 L802.5 248.8 L803.0 248.8 L803.5 248.8 L804.0 248.8 L804.5 248.8 L805.0 248.8 L805.5 248.8 L806.0 248.8 L806.5 248.8 L807.0 248.8 L807.5 248.8 L808.0 248.8 L808.5 248.8 L809.0 248.8 L809.5 248.8 L810.0 248.8 L810.5 248.8 L811.0 248.8 L811.5 248.8 L812.0 248.8 L812.5 248.8 L813.0 248.8 L813.5 248.8 L814.0 248.8 L814.5 248.8 L815.0 248.8 L815.5 248.8 L816.0 248.8 L816.5 248.8 L817.0 248.8 L817.5 248.8 L818.0 248.8 L818.5 248.8 L819.0 248.8 L819.5 248.8 L820.0 248.8 L820.5 248.8 L821.0 248.8 L821.5 248.8 L822.0 248.8 L822.5 248.8 L823.0 248.8 L823.5 248.8 L824.0 248.8 L824.5 248.8 L825.0 248.8 L825.5 248.8 L826.0 248.8 L826.5 248.8 L827.0 248.8 L827.5 248.8 L828.0 248.8 L828.5 248.8 L829.0 248.8 L829.5 248.8 L830.0 248.8 L830.5 248.8 L831.0 248.8 L831.5 248.8 L832.0 248.8 L832.5 248.8 L833.0 248.8 L833.5 248.8 L834.0 248.8 L834.5 248.8 L835.0 248.8 L835.5 248.8 L836.0 248.8 L836.5 248.8 L837.0 248.8 L837.5 248.8 L838.0 248.8 L838.5 248.8 L839.0 248.8 L839.5 248.8 L840.0 248.8 L840.5 248.8 L841.0 248.8 L841.5 248.8 L842.0 248.8 L842.5 248.8 L843.0 248.8 L843.5 248.8 L844.0 248.8 L844.5 248.8 L845.0 248.8" fill="none" stroke="#2224b0" stroke-width="1.35" stroke-dasharray="5 3.1"/>
<path d="M848.0 249.6 L848.5 249.6 L849.0 249.6 L849.5 249.5 L850.0 249.5 L850.5 249.5 L851.0 249.5 L851.5 249.5 L852.0 249.5 L852.5 249.5 L853.0 249.5 L853.5 249.5 L854.0 249.4 L854.5 249.4 L855.0 249.4 L855.5 249.4 L856.0 249.3 L856.5 249.3 L857.0 249.2 L857.5 249.2 L858.0 249.2 L858.5 249.1 L859.0 249.0 L859.5 249.0 L860.0 248.9 L860.5 248.8 L861.0 248.8 L861.5 248.7 L862.0 248.6 L862.5 248.5 L863.0 248.3 L863.5 248.2 L864.0 248.1 L864.5 247.9 L865.0 247.7 L865.5 247.6 L866.0 247.4 L866.5 247.2 L867.0 247.0 L867.5 246.7 L868.0 246.5 L868.5 246.2 L869.0 245.9 L869.5 245.6 L870.0 245.3 L870.5 244.9 L871.0 244.6 L871.5 244.2 L872.0 243.8 L872.5 243.3 L873.0 242.9 L873.5 242.4 L874.0 241.9 L874.5 241.4 L875.0 240.9 L875.5 240.3 L876.0 239.7 L876.5 239.1 L877.0 238.5 L877.5 237.9 L878.0 237.2 L878.5 236.5 L879.0 235.8 L879.5 235.1 L880.0 234.4 L880.5 233.7 L881.0 232.9 L881.5 232.2 L882.0 231.4 L882.5 230.7 L883.0 229.9 L883.5 229.1 L884.0 228.4 L884.5 227.6 L885.0 226.8 L885.5 226.1 L886.0 225.3 L886.5 224.6 L887.0 223.9 L887.5 223.2 L888.0 222.6 L888.5 221.9 L889.0 221.3 L889.5 220.7 L890.0 220.1 L890.5 219.6 L891.0 219.1 L891.5 218.7 L892.0 218.3 L892.5 217.9 L893.0 217.6 L893.5 217.3 L894.0 217.1 L894.5 216.9 L895.0 216.7 L895.5 216.6 L896.0 216.6 L896.5 216.6 L897.0 216.6 L897.5 216.7 L898.0 216.9 L898.5 217.1 L899.0 217.3 L899.5 217.6 L900.0 217.9 L900.5 218.3 L901.0 218.7 L901.5 219.1 L902.0 219.6 L902.5 220.1 L903.0 220.7 L903.5 221.2 L904.0 221.8 L904.5 222.5 L905.0 223.1 L905.5 223.8 L906.0 224.5 L906.5 225.2 L907.0 225.9 L907.5 226.6 L908.0 227.3 L908.5 228.0 L909.0 228.7 L909.5 229.4 L910.0 230.1 L910.5 230.8 L911.0 231.5 L911.5 232.2 L912.0 232.8 L912.5 233.5 L913.0 234.1 L913.5 234.7 L914.0 235.3 L914.5 235.8 L915.0 236.3 L915.5 236.8 L916.0 237.2 L916.5 237.7 L917.0 238.0 L917.5 238.4 L918.0 238.7 L918.5 239.0 L919.0 239.2 L919.5 239.4 L920.0 239.6 L920.5 239.7 L921.0 239.8 L921.5 239.9 L922.0 239.9 L922.5 239.9 L923.0 239.8 L923.5 239.7 L924.0 239.5 L924.5 239.3 L925.0 239.1 L925.5 238.9 L926.0 238.6 L926.5 238.2 L927.0 237.8 L927.5 237.4 L928.0 237.0 L928.5 236.5 L929.0 236.0 L929.5 235.4 L930.0 234.8 L930.5 234.2 L931.0 233.6 L931.5 232.9 L932.0 232.2 L932.5 231.5 L933.0 230.7 L933.5 230.0 L934.0 229.2 L934.5 228.4 L935.0 227.6 L935.5 226.7 L936.0 225.9 L936.5 225.0 L937.0 224.1 L937.5 223.2 L938.0 222.4 L938.5 221.5 L939.0 220.6 L939.5 219.7 L940.0 218.8 L940.5 218.0 L941.0 217.1 L941.5 216.3 L942.0 215.4 L942.5 214.6 L943.0 213.8 L943.5 213.1 L944.0 212.3 L944.5 211.6 L945.0 210.9 L945.5 210.3 L946.0 209.7 L946.5 209.1 L947.0 208.6 L947.5 208.1 L948.0 207.6 L948.5 207.2 L949.0 206.8 L949.5 206.5 L950.0 206.2 L950.5 206.0 L951.0 205.8 L951.5 205.7 L952.0 205.6 L952.5 205.6 L953.0 205.6 L953.5 205.8 L954.0 205.9 L954.5 206.2 L955.0 206.5 L955.5 207.0 L956.0 207.4 L956.5 208.0 L957.0 208.6 L957.5 209.3 L958.0 210.0 L958.5 210.8 L959.0 211.6 L959.5 212.5 L960.0 213.4 L960.5 214.4 L961.0 215.4 L961.5 216.4 L962.0 217.4 L962.5 218.5 L963.0 219.6 L963.5 220.7 L964.0 221.8 L964.5 222.9 L965.0 224.0 L965.5 225.1 L966.0 226.2 L966.5 227.3 L967.0 228.4 L967.5 229.5 L968.0 230.5 L968.5 231.5 L969.0 232.5 L969.5 233.5 L970.0 234.4 L970.5 235.3 L971.0 236.2 L971.5 237.0 L972.0 237.8 L972.5 238.6 L973.0 239.4 L973.5 240.1 L974.0 240.8 L974.5 241.4 L975.0 242.0 L975.5 242.6 L976.0 243.1 L976.5 243.6 L977.0 244.1 L977.5 244.6 L978.0 245.0 L978.5 245.4 L979.0 245.8 L979.5 246.1 L980.0 246.4 L980.5 246.7 L981.0 247.0 L981.5 247.2 L982.0 247.5 L982.5 247.7 L983.0 247.9 L983.5 248.0 L984.0 248.2 L984.5 248.3 L985.0 248.5 L985.5 248.6 L986.0 248.7 L986.5 248.8 L987.0 248.9 L987.5 249.0 L988.0 249.0 L988.5 249.1 L989.0 249.2 L989.5 249.2 L990.0 249.3 L990.5 249.3 L991.0 249.3 L991.5 249.4 L992.0 249.4 L992.5 249.4 L993.0 249.5 L993.5 249.5 L994.0 249.5 L994.5 249.5 L995.0 249.5 L995.5 249.5 L996.0 249.5 L996.5 249.5 L997.0 249.6 L997.5 249.6 L998.0 249.6 L998.5 249.6 L999.0 249.6 L999.5 249.6 L1000.0 249.6 L1000.5 249.6 L1001.0 249.6 L1001.5 249.6 L1002.0 249.6 L1002.5 249.6 L1003.0 249.6 L1003.5 249.6 L1004.0 249.6 L1004.5 249.6 L1005.0 249.6 L1005.5 249.6 L1006.0 249.6" fill="none" stroke="#d43c3c" stroke-width="1.35" stroke-dasharray="5 3.1"/>
<path d="M848.0 249.4 L848.5 249.4 L849.0 249.4 L849.5 249.3 L850.0 249.3 L850.5 249.3 L851.0 249.2 L851.5 249.2 L852.0 249.1 L852.5 249.1 L853.0 249.0 L853.5 249.0 L854.0 248.9 L854.5 248.8 L855.0 248.7 L855.5 248.6 L856.0 248.5 L856.5 248.4 L857.0 248.3 L857.5 248.2 L858.0 248.0 L858.5 247.9 L859.0 247.7 L859.5 247.6 L860.0 247.4 L860.5 247.2 L861.0 247.0 L861.5 246.7 L862.0 246.5 L862.5 246.2 L863.0 245.9 L863.5 245.6 L864.0 245.3 L864.5 245.0 L865.0 244.6 L865.5 244.3 L866.0 243.9 L866.5 243.4 L867.0 243.0 L867.5 242.5 L868.0 242.0 L868.5 241.5 L869.0 241.0 L869.5 240.4 L870.0 239.8 L870.5 239.2 L871.0 238.6 L871.5 237.9 L872.0 237.3 L872.5 236.6 L873.0 235.8 L873.5 235.1 L874.0 234.3 L874.5 233.5 L875.0 232.7 L875.5 231.9 L876.0 231.0 L876.5 230.2 L877.0 229.3 L877.5 228.4 L878.0 227.5 L878.5 226.6 L879.0 225.7 L879.5 224.8 L880.0 223.9 L880.5 223.0 L881.0 222.0 L881.5 221.1 L882.0 220.2 L882.5 219.3 L883.0 218.5 L883.5 217.6 L884.0 216.7 L884.5 215.9 L885.0 215.1 L885.5 214.3 L886.0 213.6 L886.5 212.9 L887.0 212.2 L887.5 211.5 L888.0 210.9 L888.5 210.3 L889.0 209.8 L889.5 209.3 L890.0 208.9 L890.5 208.5 L891.0 208.2 L891.5 207.9 L892.0 207.6 L892.5 207.4 L893.0 207.3 L893.5 207.2 L894.0 207.2 L894.5 207.2 L895.0 207.3 L895.5 207.4 L896.0 207.6 L896.5 207.9 L897.0 208.2 L897.5 208.5 L898.0 208.9 L898.5 209.3 L899.0 209.8 L899.5 210.3 L900.0 210.9 L900.5 211.5 L901.0 212.2 L901.5 212.9 L902.0 213.6 L902.5 214.3 L903.0 215.1 L903.5 215.9 L904.0 216.7 L904.5 217.6 L905.0 218.5 L905.5 219.3 L906.0 220.2 L906.5 221.1 L907.0 222.0 L907.5 222.9 L908.0 223.9 L908.5 224.8 L909.0 225.7 L909.5 226.6 L910.0 227.5 L910.5 228.4 L911.0 229.3 L911.5 230.1 L912.0 231.0 L912.5 231.8 L913.0 232.6 L913.5 233.4 L914.0 234.2 L914.5 235.0 L915.0 235.7 L915.5 236.4 L916.0 237.1 L916.5 237.7 L917.0 238.4 L917.5 239.0 L918.0 239.5 L918.5 240.1 L919.0 240.6 L919.5 241.1 L920.0 241.6 L920.5 242.0 L921.0 242.4 L921.5 242.8 L922.0 243.2 L922.5 243.5 L923.0 243.8 L923.5 244.0 L924.0 244.3 L924.5 244.5 L925.0 244.7 L925.5 244.8 L926.0 244.9 L926.5 245.0 L927.0 245.1 L927.5 245.1 L928.0 245.1 L928.5 245.1 L929.0 245.1 L929.5 245.0 L930.0 244.9 L930.5 244.8 L931.0 244.6 L931.5 244.4 L932.0 244.2 L932.5 244.0 L933.0 243.7 L933.5 243.4 L934.0 243.0 L934.5 242.7 L935.0 242.3 L935.5 241.8 L936.0 241.4 L936.5 240.9 L937.0 240.4 L937.5 239.8 L938.0 239.2 L938.5 238.6 L939.0 238.0 L939.5 237.3 L940.0 236.6 L940.5 235.9 L941.0 235.1 L941.5 234.4 L942.0 233.6 L942.5 232.7 L943.0 231.9 L943.5 231.0 L944.0 230.1 L944.5 229.2 L945.0 228.3 L945.5 227.3 L946.0 226.3 L946.5 225.4 L947.0 224.4 L947.5 223.4 L948.0 222.4 L948.5 221.4 L949.0 220.4 L949.5 219.4 L950.0 218.4 L950.5 217.4 L951.0 216.4 L951.5 215.4 L952.0 214.5 L952.5 213.6 L953.0 212.7 L953.5 211.8 L954.0 210.9 L954.5 210.1 L955.0 209.3 L955.5 208.6 L956.0 207.8 L956.5 207.2 L957.0 206.6 L957.5 206.0 L958.0 205.4 L958.5 205.0 L959.0 204.5 L959.5 204.2 L960.0 203.8 L960.5 203.6 L961.0 203.4 L961.5 203.2 L962.0 203.1 L962.5 203.1 L963.0 203.1 L963.5 203.3 L964.0 203.5 L964.5 203.8 L965.0 204.2 L965.5 204.7 L966.0 205.2 L966.5 205.8 L967.0 206.5 L967.5 207.3 L968.0 208.1 L968.5 209.0 L969.0 210.0 L969.5 211.0 L970.0 212.0 L970.5 213.1 L971.0 214.2 L971.5 215.4 L972.0 216.5 L972.5 217.7 L973.0 219.0 L973.5 220.2 L974.0 221.4 L974.5 222.6 L975.0 223.8 L975.5 225.1 L976.0 226.3 L976.5 227.4 L977.0 228.6 L977.5 229.7 L978.0 230.9 L978.5 231.9 L979.0 233.0 L979.5 234.0 L980.0 235.0 L980.5 235.9 L981.0 236.9 L981.5 237.7 L982.0 238.6 L982.5 239.4 L983.0 240.1 L983.5 240.8 L984.0 241.5 L984.5 242.1 L985.0 242.7 L985.5 243.3 L986.0 243.8 L986.5 244.3 L987.0 244.8 L987.5 245.2 L988.0 245.6 L988.5 246.0 L989.0 246.3 L989.5 246.6 L990.0 246.9 L990.5 247.2 L991.0 247.4 L991.5 247.7 L992.0 247.9 L992.5 248.1 L993.0 248.2 L993.5 248.4 L994.0 248.5 L994.5 248.6 L995.0 248.7 L995.5 248.8 L996.0 248.9 L996.5 249.0 L997.0 249.1 L997.5 249.1 L998.0 249.2 L998.5 249.3 L999.0 249.3 L999.5 249.3 L1000.0 249.4 L1000.5 249.4 L1001.0 249.4 L1001.5 249.5 L1002.0 249.5 L1002.5 249.5 L1003.0 249.5 L1003.5 249.5 L1004.0 249.5 L1004.5 249.5 L1005.0 249.5 L1005.5 249.6 L1006.0 249.6" fill="none" stroke="#2224b0" stroke-width="1.35" stroke-dasharray="5 3.1"/>
<path d="M848.0 249.5 L848.5 249.5 L849.0 249.5 L849.5 249.5 L850.0 249.5 L850.5 249.5 L851.0 249.4 L851.5 249.4 L852.0 249.4 L852.5 249.4 L853.0 249.4 L853.5 249.3 L854.0 249.3 L854.5 249.3 L855.0 249.2 L855.5 249.2 L856.0 249.2 L856.5 249.1 L857.0 249.1 L857.5 249.0 L858.0 249.0 L858.5 248.9 L859.0 248.9 L859.5 248.8 L860.0 248.7 L860.5 248.7 L861.0 248.6 L861.5 248.6 L862.0 248.5 L862.5 248.4 L863.0 248.3 L863.5 248.2 L864.0 248.0 L864.5 247.9 L865.0 247.7 L865.5 247.5 L866.0 247.3 L866.5 247.0 L867.0 246.8 L867.5 246.5 L868.0 246.2 L868.5 245.9 L869.0 245.6 L869.5 245.3 L870.0 245.0 L870.5 244.6 L871.0 244.2 L871.5 243.8 L872.0 243.2 L872.5 242.7 L873.0 242.1 L873.5 241.4 L874.0 240.8 L874.5 240.1 L875.0 239.4 L875.5 238.7 L876.0 238.0 L876.5 237.3 L877.0 236.6 L877.5 235.8 L878.0 235.0 L878.5 234.2 L879.0 233.4 L879.5 232.5 L880.0 231.5 L880.5 230.6 L881.0 229.6 L881.5 228.5 L882.0 227.4 L882.5 226.2 L883.0 224.8 L883.5 223.3 L884.0 221.8 L884.5 220.3 L885.0 218.9 L885.5 217.4 L886.0 216.0 L886.5 214.6 L887.0 213.2 L887.5 211.8 L888.0 210.4 L888.5 209.0 L889.0 207.6 L889.5 206.2 L890.0 204.8 L890.5 203.3 L891.0 201.9 L891.5 200.6 L892.0 199.3 L892.5 198.0 L893.0 196.9 L893.5 195.8 L894.0 194.7 L894.5 193.7 L895.0 192.8 L895.5 192.0 L896.0 191.3 L896.5 190.5 L897.0 189.9 L897.5 189.3 L898.0 188.7 L898.5 188.2 L899.0 187.7 L899.5 187.3 L900.0 186.9 L900.5 186.5 L901.0 186.1 L901.5 185.8 L902.0 185.5 L902.5 185.2 L903.0 185.0 L903.5 184.8 L904.0 184.6 L904.5 184.4 L905.0 184.2 L905.5 184.0 L906.0 183.9 L906.5 183.7 L907.0 183.7 L907.5 183.6 L908.0 183.6 L908.5 183.6 L909.0 183.7 L909.5 183.7 L910.0 183.8 L910.5 183.9 L911.0 184.0 L911.5 184.1 L912.0 184.2 L912.5 184.3 L913.0 184.4 L913.5 184.6 L914.0 184.8 L914.5 185.0 L915.0 185.2 L915.5 185.5 L916.0 185.7 L916.5 186.0 L917.0 186.3 L917.5 186.6 L918.0 187.0 L918.5 187.3 L919.0 187.8 L919.5 188.2 L920.0 188.7 L920.5 189.3 L921.0 189.9 L921.5 190.5 L922.0 191.1 L922.5 191.8 L923.0 192.4 L923.5 193.1 L924.0 193.8 L924.5 194.6 L925.0 195.3 L925.5 196.1 L926.0 197.0 L926.5 197.9 L927.0 198.8 L927.5 199.7 L928.0 200.7 L928.5 201.7 L929.0 202.7 L929.5 203.8 L930.0 204.9 L930.5 206.1 L931.0 207.3 L931.5 208.5 L932.0 209.8 L932.5 211.0 L933.0 212.3 L933.5 213.5 L934.0 214.7 L934.5 216.0 L935.0 217.2 L935.5 218.5 L936.0 219.8 L936.5 221.1 L937.0 222.3 L937.5 223.6 L938.0 224.8 L938.5 226.0 L939.0 227.2 L939.5 228.4 L940.0 229.6 L940.5 230.8 L941.0 231.9 L941.5 233.0 L942.0 234.0 L942.5 234.9 L943.0 235.9 L943.5 236.8 L944.0 237.6 L944.5 238.4 L945.0 239.2 L945.5 239.9 L946.0 240.5 L946.5 241.1 L947.0 241.7 L947.5 242.2 L948.0 242.8 L948.5 243.3 L949.0 243.8 L949.5 244.2 L950.0 244.7 L950.5 245.1 L951.0 245.5 L951.5 245.8 L952.0 246.1 L952.5 246.4 L953.0 246.6 L953.5 246.8 L954.0 247.0 L954.5 247.1 L955.0 247.3 L955.5 247.5 L956.0 247.6 L956.5 247.8 L957.0 247.9 L957.5 248.1 L958.0 248.2 L958.5 248.3 L959.0 248.4 L959.5 248.6 L960.0 248.6 L960.5 248.7 L961.0 248.8 L961.5 248.9 L962.0 249.0 L962.5 249.0 L963.0 249.1 L963.5 249.1 L964.0 249.1 L964.5 249.2 L965.0 249.2 L965.5 249.2 L966.0 249.3 L966.5 249.3 L967.0 249.3 L967.5 249.4 L968.0 249.4 L968.5 249.4 L969.0 249.4 L969.5 249.5 L970.0 249.5 L970.5 249.5 L971.0 249.5 L971.5 249.5 L972.0 249.6 L972.5 249.6 L973.0 249.6 L973.5 249.6 L974.0 249.6 L974.5 249.6 L975.0 249.6 L975.5 249.6 L976.0 249.6 L976.5 249.6 L977.0 249.6 L977.5 249.6 L978.0 249.6 L978.5 249.6 L979.0 249.6 L979.5 249.6 L980.0 249.6 L980.5 249.6 L981.0 249.6 L981.5 249.6 L982.0 249.6 L982.5 249.6 L983.0 249.6 L983.5 249.6 L984.0 249.6 L984.5 249.6 L985.0 249.6 L985.5 249.6 L986.0 249.6 L986.5 249.6 L987.0 249.6 L987.5 249.6 L988.0 249.6 L988.5 249.6 L989.0 249.6 L989.5 249.6 L990.0 249.6 L990.5 249.6 L991.0 249.6 L991.5 249.6 L992.0 249.6 L992.5 249.6 L993.0 249.6 L993.5 249.6 L994.0 249.6 L994.5 249.6 L995.0 249.6 L995.5 249.6 L996.0 249.6 L996.5 249.6 L997.0 249.6 L997.5 249.6 L998.0 249.6 L998.5 249.6 L999.0 249.6 L999.5 249.6 L1000.0 249.6 L1000.5 249.6 L1001.0 249.6 L1001.5 249.6 L1002.0 249.6 L1002.5 249.6 L1003.0 249.6 L1003.5 249.6 L1004.0 249.6 L1004.5 249.6 L1005.0 249.6 L1005.5 249.6 L1006.0 249.6" fill="none" stroke="#2f903c" stroke-width="1.35" stroke-dasharray="5 3.1"/>
<path d="M848.0 249.6 L848.5 249.6 L849.0 249.6 L849.5 249.6 L850.0 249.6 L850.5 249.6 L851.0 249.6 L851.5 249.6 L852.0 249.6 L852.5 249.6 L853.0 249.6 L853.5 249.6 L854.0 249.6 L854.5 249.6 L855.0 249.6 L855.5 249.6 L856.0 249.6 L856.5 249.6 L857.0 249.6 L857.5 249.6 L858.0 249.6 L858.5 249.6 L859.0 249.6 L859.5 249.6 L860.0 249.6 L860.5 249.6 L861.0 249.6 L861.5 249.6 L862.0 249.6 L862.5 249.6 L863.0 249.6 L863.5 249.6 L864.0 249.6 L864.5 249.6 L865.0 249.6 L865.5 249.6 L866.0 249.6 L866.5 249.6 L867.0 249.6 L867.5 249.6 L868.0 249.6 L868.5 249.6 L869.0 249.6 L869.5 249.6 L870.0 249.6 L870.5 249.6 L871.0 249.6 L871.5 249.6 L872.0 249.6 L872.5 249.6 L873.0 249.6 L873.5 249.6 L874.0 249.6 L874.5 249.6 L875.0 249.6 L875.5 249.6 L876.0 249.6 L876.5 249.6 L877.0 249.6 L877.5 249.6 L878.0 249.5 L878.5 249.5 L879.0 249.5 L879.5 249.5 L880.0 249.5 L880.5 249.5 L881.0 249.5 L881.5 249.5 L882.0 249.5 L882.5 249.4 L883.0 249.4 L883.5 249.4 L884.0 249.4 L884.5 249.3 L885.0 249.3 L885.5 249.3 L886.0 249.3 L886.5 249.2 L887.0 249.2 L887.5 249.1 L888.0 249.1 L888.5 249.0 L889.0 248.9 L889.5 248.9 L890.0 248.8 L890.5 248.7 L891.0 248.6 L891.5 248.5 L892.0 248.4 L892.5 248.3 L893.0 248.2 L893.5 248.0 L894.0 247.9 L894.5 247.7 L895.0 247.6 L895.5 247.4 L896.0 247.2 L896.5 246.9 L897.0 246.7 L897.5 246.5 L898.0 246.2 L898.5 245.9 L899.0 245.6 L899.5 245.2 L900.0 244.9 L900.5 244.5 L901.0 244.1 L901.5 243.6 L902.0 243.2 L902.5 242.7 L903.0 242.2 L903.5 241.6 L904.0 241.0 L904.5 240.4 L905.0 239.7 L905.5 239.1 L906.0 238.3 L906.5 237.6 L907.0 236.8 L907.5 235.9 L908.0 235.0 L908.5 234.1 L909.0 233.1 L909.5 232.1 L910.0 231.1 L910.5 230.0 L911.0 228.9 L911.5 227.7 L912.0 226.5 L912.5 225.2 L913.0 223.9 L913.5 222.5 L914.0 221.1 L914.5 219.7 L915.0 218.2 L915.5 216.7 L916.0 215.2 L916.5 213.6 L917.0 212.0 L917.5 210.4 L918.0 208.7 L918.5 207.0 L919.0 205.3 L919.5 203.5 L920.0 201.8 L920.5 200.0 L921.0 198.2 L921.5 196.4 L922.0 194.6 L922.5 192.8 L923.0 191.0 L923.5 189.2 L924.0 187.4 L924.5 185.6 L925.0 183.8 L925.5 182.1 L926.0 180.4 L926.5 178.7 L927.0 177.0 L927.5 175.4 L928.0 173.9 L928.5 172.3 L929.0 170.9 L929.5 169.5 L930.0 168.1 L930.5 166.8 L931.0 165.6 L931.5 164.4 L932.0 163.4 L932.5 162.4 L933.0 161.4 L933.5 160.6 L934.0 159.8 L934.5 159.2 L935.0 158.6 L935.5 158.1 L936.0 157.7 L936.5 157.4 L937.0 157.2 L937.5 157.1 L938.0 157.1 L938.5 157.2 L939.0 157.4 L939.5 157.7 L940.0 158.1 L940.5 158.6 L941.0 159.2 L941.5 159.9 L942.0 160.7 L942.5 161.5 L943.0 162.5 L943.5 163.5 L944.0 164.7 L944.5 165.9 L945.0 167.2 L945.5 168.5 L946.0 169.9 L946.5 171.4 L947.0 173.0 L947.5 174.6 L948.0 176.2 L948.5 177.9 L949.0 179.6 L949.5 181.4 L950.0 183.1 L950.5 185.0 L951.0 186.8 L951.5 188.6 L952.0 190.5 L952.5 192.4 L953.0 194.2 L953.5 196.1 L954.0 198.0 L954.5 199.8 L955.0 201.7 L955.5 203.5 L956.0 205.3 L956.5 207.1 L957.0 208.8 L957.5 210.6 L958.0 212.2 L958.5 213.9 L959.0 215.5 L959.5 217.1 L960.0 218.7 L960.5 220.2 L961.0 221.6 L961.5 223.1 L962.0 224.4 L962.5 225.8 L963.0 227.0 L963.5 228.3 L964.0 229.5 L964.5 230.6 L965.0 231.7 L965.5 232.8 L966.0 233.8 L966.5 234.8 L967.0 235.7 L967.5 236.6 L968.0 237.4 L968.5 238.2 L969.0 239.0 L969.5 239.7 L970.0 240.4 L970.5 241.0 L971.0 241.6 L971.5 242.2 L972.0 242.7 L972.5 243.2 L973.0 243.7 L973.5 244.2 L974.0 244.6 L974.5 245.0 L975.0 245.3 L975.5 245.7 L976.0 246.0 L976.5 246.3 L977.0 246.6 L977.5 246.8 L978.0 247.1 L978.5 247.3 L979.0 247.5 L979.5 247.7 L980.0 247.8 L980.5 248.0 L981.0 248.1 L981.5 248.3 L982.0 248.4 L982.5 248.5 L983.0 248.6 L983.5 248.7 L984.0 248.8 L984.5 248.9 L985.0 248.9 L985.5 249.0 L986.0 249.1 L986.5 249.1 L987.0 249.2 L987.5 249.2 L988.0 249.3 L988.5 249.3 L989.0 249.3 L989.5 249.4 L990.0 249.4 L990.5 249.4 L991.0 249.4 L991.5 249.4 L992.0 249.5 L992.5 249.5 L993.0 249.5 L993.5 249.5 L994.0 249.5 L994.5 249.5 L995.0 249.5 L995.5 249.5 L996.0 249.6 L996.5 249.6 L997.0 249.6 L997.5 249.6 L998.0 249.6 L998.5 249.6 L999.0 249.6 L999.5 249.6 L1000.0 249.6 L1000.5 249.6 L1001.0 249.6 L1001.5 249.6 L1002.0 249.6 L1002.5 249.6 L1003.0 249.6 L1003.5 249.6 L1004.0 249.6 L1004.5 249.6 L1005.0 249.6 L1005.5 249.6 L1006.0 249.6" fill="none" stroke="#0a0a0a" stroke-width="2.3"/>
<path d="M688.0 406.2 L688.5 406.2 L689.0 406.2 L689.5 406.2 L690.0 406.1 L690.5 406.1 L691.0 406.1 L691.5 406.0 L692.0 405.9 L692.5 405.9 L693.0 405.8 L693.5 405.7 L694.0 405.6 L694.5 405.6 L695.0 405.5 L695.5 405.4 L696.0 405.3 L696.5 405.1 L697.0 405.0 L697.5 404.9 L698.0 404.8 L698.5 404.7 L699.0 404.5 L699.5 404.2 L700.0 404.0 L700.5 403.7 L701.0 403.4 L701.5 403.0 L702.0 402.6 L702.5 402.2 L703.0 401.8 L703.5 401.4 L704.0 400.9 L704.5 400.5 L705.0 400.0 L705.5 399.5 L706.0 399.0 L706.5 398.4 L707.0 397.8 L707.5 397.1 L708.0 396.4 L708.5 395.7 L709.0 394.9 L709.5 394.1 L710.0 393.4 L710.5 392.6 L711.0 391.8 L711.5 391.0 L712.0 390.2 L712.5 389.4 L713.0 388.5 L713.5 387.7 L714.0 386.8 L714.5 385.9 L715.0 384.9 L715.5 384.0 L716.0 383.1 L716.5 382.2 L717.0 381.2 L717.5 380.3 L718.0 379.4 L718.5 378.5 L719.0 377.6 L719.5 376.6 L720.0 375.6 L720.5 374.6 L721.0 373.7 L721.5 372.8 L722.0 371.9 L722.5 371.1 L723.0 370.5 L723.5 369.9 L724.0 369.3 L724.5 368.7 L725.0 368.2 L725.5 367.7 L726.0 367.3 L726.5 366.9 L727.0 366.8 L727.5 366.7 L728.0 366.7 L728.5 366.7 L729.0 366.8 L729.5 366.8 L730.0 366.9 L730.5 367.0 L731.0 367.1 L731.5 367.2 L732.0 367.3 L732.5 367.6 L733.0 367.9 L733.5 368.2 L734.0 368.6 L734.5 369.1 L735.0 369.5 L735.5 370.0 L736.0 370.5 L736.5 371.1 L737.0 371.7 L737.5 372.4 L738.0 373.2 L738.5 374.0 L739.0 374.8 L739.5 375.7 L740.0 376.6 L740.5 377.5 L741.0 378.4 L741.5 379.2 L742.0 380.1 L742.5 381.1 L743.0 382.1 L743.5 383.2 L744.0 384.2 L744.5 385.3 L745.0 386.4 L745.5 387.4 L746.0 388.4 L746.5 389.3 L747.0 390.2 L747.5 391.0 L748.0 391.7 L748.5 392.5 L749.0 393.3 L749.5 394.0 L750.0 394.7 L750.5 395.4 L751.0 396.0 L751.5 396.5 L752.0 396.9 L752.5 397.2 L753.0 397.5 L753.5 397.8 L754.0 398.0 L754.5 398.2 L755.0 398.4 L755.5 398.5 L756.0 398.6 L756.5 398.7 L757.0 398.7 L757.5 398.6 L758.0 398.5 L758.5 398.3 L759.0 398.0 L759.5 397.8 L760.0 397.5 L760.5 397.1 L761.0 396.7 L761.5 396.1 L762.0 395.4 L762.5 394.7 L763.0 394.0 L763.5 393.2 L764.0 392.4 L764.5 391.6 L765.0 390.6 L765.5 389.6 L766.0 388.6 L766.5 387.6 L767.0 386.5 L767.5 385.4 L768.0 384.3 L768.5 383.2 L769.0 382.0 L769.5 380.7 L770.0 379.2 L770.5 377.6 L771.0 375.6 L771.5 373.3 L772.0 370.8 L772.5 368.3 L773.0 366.0 L773.5 363.8 L774.0 361.7 L774.5 359.6 L775.0 357.4 L775.5 355.0 L776.0 352.3 L776.5 349.3 L777.0 346.3 L777.5 343.5 L778.0 341.1 L778.5 338.8 L779.0 336.6 L779.5 334.4 L780.0 332.2 L780.5 329.8 L781.0 327.3 L781.5 324.6 L782.0 322.1 L782.5 319.7 L783.0 317.7 L783.5 316.0 L784.0 314.4 L784.5 313.0 L785.0 311.6 L785.5 310.3 L786.0 309.1 L786.5 307.9 L787.0 306.8 L787.5 305.6 L788.0 304.5 L788.5 303.4 L789.0 302.4 L789.5 301.6 L790.0 301.0 L790.5 300.6 L791.0 300.2 L791.5 299.9 L792.0 299.6 L792.5 299.4 L793.0 299.3 L793.5 299.3 L794.0 299.5 L794.5 299.8 L795.0 300.1 L795.5 300.5 L796.0 301.0 L796.5 301.5 L797.0 302.1 L797.5 302.8 L798.0 303.6 L798.5 304.5 L799.0 305.6 L799.5 306.8 L800.0 308.1 L800.5 309.7 L801.0 311.7 L801.5 314.0 L802.0 316.6 L802.5 319.3 L803.0 322.2 L803.5 325.7 L804.0 329.4 L804.5 332.8 L805.0 335.7 L805.5 338.4 L806.0 340.9 L806.5 343.2 L807.0 345.5 L807.5 347.6 L808.0 349.6 L808.5 351.5 L809.0 353.3 L809.5 355.0 L810.0 356.8 L810.5 358.5 L811.0 360.3 L811.5 362.0 L812.0 363.7 L812.5 365.4 L813.0 367.1 L813.5 368.8 L814.0 370.4 L814.5 372.0 L815.0 373.7 L815.5 375.3 L816.0 376.9 L816.5 378.5 L817.0 380.1 L817.5 381.6 L818.0 383.1 L818.5 384.6 L819.0 385.9 L819.5 387.2 L820.0 388.4 L820.5 389.6 L821.0 390.8 L821.5 392.0 L822.0 393.1 L822.5 394.2 L823.0 395.2 L823.5 396.1 L824.0 397.0 L824.5 397.8 L825.0 398.5 L825.5 399.1 L826.0 399.7 L826.5 400.3 L827.0 400.8 L827.5 401.4 L828.0 401.9 L828.5 402.4 L829.0 402.9 L829.5 403.3 L830.0 403.8 L830.5 404.1 L831.0 404.5 L831.5 404.8 L832.0 405.0 L832.5 405.2 L833.0 405.3 L833.5 405.4 L834.0 405.5 L834.5 405.6 L835.0 405.6 L835.5 405.7 L836.0 405.7 L836.5 405.8 L837.0 405.8 L837.5 405.8 L838.0 405.9 L838.5 405.9 L839.0 405.9 L839.5 406.0 L840.0 406.0 L840.5 406.0 L841.0 406.1 L841.5 406.1 L842.0 406.1 L842.5 406.2 L843.0 406.2 L843.5 406.2 L844.0 406.2 L844.5 406.3 L845.0 406.3" fill="none" stroke="#2224b0" stroke-width="1.35" stroke-dasharray="5 3.1"/>
<path d="M688.0 406.3 L688.5 406.3 L689.0 406.3 L689.5 406.3 L690.0 406.3 L690.5 406.3 L691.0 406.3 L691.5 406.3 L692.0 406.3 L692.5 406.3 L693.0 406.3 L693.5 406.3 L694.0 406.3 L694.5 406.3 L695.0 406.3 L695.5 406.3 L696.0 406.3 L696.5 406.3 L697.0 406.3 L697.5 406.3 L698.0 406.3 L698.5 406.3 L699.0 406.3 L699.5 406.3 L700.0 406.3 L700.5 406.3 L701.0 406.3 L701.5 406.3 L702.0 406.3 L702.5 406.3 L703.0 406.3 L703.5 406.3 L704.0 406.3 L704.5 406.3 L705.0 406.3 L705.5 406.3 L706.0 406.3 L706.5 406.3 L707.0 406.3 L707.5 406.3 L708.0 406.2 L708.5 406.2 L709.0 406.2 L709.5 406.2 L710.0 406.1 L710.5 406.1 L711.0 406.1 L711.5 406.1 L712.0 406.0 L712.5 406.0 L713.0 406.0 L713.5 405.9 L714.0 405.9 L714.5 405.8 L715.0 405.8 L715.5 405.8 L716.0 405.7 L716.5 405.7 L717.0 405.6 L717.5 405.6 L718.0 405.5 L718.5 405.4 L719.0 405.3 L719.5 405.3 L720.0 405.2 L720.5 405.1 L721.0 405.0 L721.5 404.8 L722.0 404.7 L722.5 404.6 L723.0 404.4 L723.5 404.3 L724.0 404.1 L724.5 403.8 L725.0 403.4 L725.5 402.8 L726.0 402.1 L726.5 401.3 L727.0 400.4 L727.5 399.4 L728.0 398.3 L728.5 397.2 L729.0 396.1 L729.5 395.0 L730.0 393.8 L730.5 392.7 L731.0 391.7 L731.5 390.6 L732.0 389.5 L732.5 388.4 L733.0 387.2 L733.5 386.0 L734.0 384.7 L734.5 383.5 L735.0 382.2 L735.5 380.9 L736.0 379.6 L736.5 378.2 L737.0 376.9 L737.5 375.5 L738.0 374.1 L738.5 372.7 L739.0 371.2 L739.5 369.7 L740.0 368.2 L740.5 366.7 L741.0 365.2 L741.5 363.7 L742.0 362.2 L742.5 360.8 L743.0 359.5 L743.5 358.1 L744.0 356.8 L744.5 355.5 L745.0 354.2 L745.5 352.9 L746.0 351.6 L746.5 350.4 L747.0 349.1 L747.5 347.9 L748.0 346.8 L748.5 345.7 L749.0 344.6 L749.5 343.6 L750.0 342.7 L750.5 341.8 L751.0 340.9 L751.5 340.0 L752.0 339.1 L752.5 338.3 L753.0 337.6 L753.5 337.0 L754.0 336.4 L754.5 336.0 L755.0 335.6 L755.5 335.3 L756.0 335.0 L756.5 334.7 L757.0 334.4 L757.5 334.2 L758.0 334.1 L758.5 334.0 L759.0 334.0 L759.5 334.3 L760.0 334.6 L760.5 335.1 L761.0 335.7 L761.5 336.4 L762.0 337.0 L762.5 337.7 L763.0 338.6 L763.5 339.6 L764.0 340.8 L764.5 341.9 L765.0 343.1 L765.5 344.5 L766.0 346.1 L766.5 347.8 L767.0 349.4 L767.5 350.9 L768.0 352.3 L768.5 353.5 L769.0 354.6 L769.5 355.7 L770.0 356.7 L770.5 357.7 L771.0 358.5 L771.5 359.3 L772.0 360.2 L772.5 361.1 L773.0 361.9 L773.5 362.5 L774.0 363.0 L774.5 363.2 L775.0 363.2 L775.5 363.2 L776.0 363.1 L776.5 363.1 L777.0 363.1 L777.5 363.0 L778.0 362.9 L778.5 362.9 L779.0 362.8 L779.5 362.7 L780.0 362.6 L780.5 362.5 L781.0 362.3 L781.5 362.2 L782.0 362.0 L782.5 361.8 L783.0 361.7 L783.5 361.5 L784.0 361.3 L784.5 361.1 L785.0 360.9 L785.5 360.7 L786.0 360.5 L786.5 360.3 L787.0 360.1 L787.5 359.9 L788.0 359.7 L788.5 359.6 L789.0 359.5 L789.5 359.4 L790.0 359.4 L790.5 359.3 L791.0 359.2 L791.5 359.2 L792.0 359.1 L792.5 359.1 L793.0 359.1 L793.5 359.1 L794.0 359.2 L794.5 359.4 L795.0 359.6 L795.5 359.9 L796.0 360.2 L796.5 360.5 L797.0 360.9 L797.5 361.3 L798.0 361.8 L798.5 362.4 L799.0 363.1 L799.5 363.9 L800.0 364.7 L800.5 365.6 L801.0 366.4 L801.5 367.3 L802.0 368.3 L802.5 369.2 L803.0 370.3 L803.5 371.3 L804.0 372.4 L804.5 373.5 L805.0 374.5 L805.5 375.6 L806.0 376.6 L806.5 377.6 L807.0 378.6 L807.5 379.7 L808.0 380.7 L808.5 381.8 L809.0 382.9 L809.5 383.9 L810.0 384.9 L810.5 386.0 L811.0 386.9 L811.5 387.9 L812.0 388.8 L812.5 389.7 L813.0 390.6 L813.5 391.4 L814.0 392.2 L814.5 393.0 L815.0 393.8 L815.5 394.6 L816.0 395.4 L816.5 396.1 L817.0 396.8 L817.5 397.5 L818.0 398.2 L818.5 398.8 L819.0 399.3 L819.5 399.8 L820.0 400.3 L820.5 400.7 L821.0 401.2 L821.5 401.6 L822.0 402.0 L822.5 402.4 L823.0 402.8 L823.5 403.2 L824.0 403.6 L824.5 403.9 L825.0 404.2 L825.5 404.5 L826.0 404.8 L826.5 405.0 L827.0 405.2 L827.5 405.3 L828.0 405.4 L828.5 405.5 L829.0 405.6 L829.5 405.7 L830.0 405.8 L830.5 405.8 L831.0 405.9 L831.5 406.0 L832.0 406.0 L832.5 406.1 L833.0 406.2 L833.5 406.2 L834.0 406.2 L834.5 406.3 L835.0 406.3 L835.5 406.3 L836.0 406.3 L836.5 406.3 L837.0 406.3 L837.5 406.3 L838.0 406.3 L838.5 406.3 L839.0 406.3 L839.5 406.3 L840.0 406.3 L840.5 406.3 L841.0 406.3 L841.5 406.3 L842.0 406.3 L842.5 406.3 L843.0 406.3 L843.5 406.3 L844.0 406.3 L844.5 406.3 L845.0 406.3" fill="none" stroke="#d43c3c" stroke-width="1.35" stroke-dasharray="5 3.1"/>
<path d="M688.0 406.3 L688.5 406.3 L689.0 406.3 L689.5 406.3 L690.0 406.3 L690.5 406.3 L691.0 406.3 L691.5 406.3 L692.0 406.3 L692.5 406.3 L693.0 406.3 L693.5 406.3 L694.0 406.3 L694.5 406.3 L695.0 406.3 L695.5 406.3 L696.0 406.3 L696.5 406.3 L697.0 406.3 L697.5 406.3 L698.0 406.3 L698.5 406.3 L699.0 406.3 L699.5 406.3 L700.0 406.3 L700.5 406.3 L701.0 406.3 L701.5 406.3 L702.0 406.3 L702.5 406.3 L703.0 406.3 L703.5 406.3 L704.0 406.3 L704.5 406.3 L705.0 406.3 L705.5 406.3 L706.0 406.3 L706.5 406.3 L707.0 406.3 L707.5 406.3 L708.0 406.3 L708.5 406.3 L709.0 406.3 L709.5 406.3 L710.0 406.3 L710.5 406.3 L711.0 406.3 L711.5 406.3 L712.0 406.3 L712.5 406.3 L713.0 406.3 L713.5 406.3 L714.0 406.3 L714.5 406.3 L715.0 406.3 L715.5 406.3 L716.0 406.3 L716.5 406.3 L717.0 406.3 L717.5 406.3 L718.0 406.3 L718.5 406.3 L719.0 406.3 L719.5 406.3 L720.0 406.3 L720.5 406.2 L721.0 406.2 L721.5 406.2 L722.0 406.2 L722.5 406.2 L723.0 406.2 L723.5 406.2 L724.0 406.2 L724.5 406.1 L725.0 406.1 L725.5 406.1 L726.0 406.0 L726.5 405.9 L727.0 405.8 L727.5 405.6 L728.0 405.5 L728.5 405.2 L729.0 405.0 L729.5 404.8 L730.0 404.5 L730.5 404.3 L731.0 404.0 L731.5 403.7 L732.0 403.5 L732.5 403.1 L733.0 402.8 L733.5 402.4 L734.0 402.1 L734.5 401.7 L735.0 401.2 L735.5 400.8 L736.0 400.3 L736.5 399.8 L737.0 399.3 L737.5 398.7 L738.0 398.1 L738.5 397.4 L739.0 396.7 L739.5 396.0 L740.0 395.2 L740.5 394.4 L741.0 393.5 L741.5 392.6 L742.0 391.7 L742.5 390.7 L743.0 389.7 L743.5 388.6 L744.0 387.5 L744.5 386.4 L745.0 385.2 L745.5 383.7 L746.0 382.1 L746.5 380.4 L747.0 378.6 L747.5 376.7 L748.0 374.7 L748.5 372.7 L749.0 370.6 L749.5 368.6 L750.0 366.7 L750.5 364.8 L751.0 362.9 L751.5 361.2 L752.0 359.6 L752.5 358.0 L753.0 356.4 L753.5 354.8 L754.0 353.3 L754.5 351.7 L755.0 350.2 L755.5 348.7 L756.0 347.1 L756.5 345.5 L757.0 343.9 L757.5 342.3 L758.0 340.5 L758.5 338.8 L759.0 336.8 L759.5 334.8 L760.0 332.8 L760.5 330.8 L761.0 328.9 L761.5 327.1 L762.0 325.5 L762.5 324.0 L763.0 322.6 L763.5 321.2 L764.0 319.8 L764.5 318.6 L765.0 317.4 L765.5 316.4 L766.0 315.5 L766.5 314.7 L767.0 313.8 L767.5 313.1 L768.0 312.4 L768.5 311.8 L769.0 311.3 L769.5 311.0 L770.0 310.8 L770.5 310.6 L771.0 310.4 L771.5 310.2 L772.0 310.0 L772.5 309.9 L773.0 309.8 L773.5 309.8 L774.0 309.8 L774.5 309.9 L775.0 310.0 L775.5 310.1 L776.0 310.2 L776.5 310.4 L777.0 310.6 L777.5 310.8 L778.0 311.1 L778.5 311.5 L779.0 311.9 L779.5 312.2 L780.0 312.6 L780.5 313.0 L781.0 313.4 L781.5 313.8 L782.0 314.3 L782.5 314.8 L783.0 315.3 L783.5 315.7 L784.0 316.1 L784.5 316.4 L785.0 316.7 L785.5 317.0 L786.0 317.2 L786.5 317.5 L787.0 317.7 L787.5 317.9 L788.0 318.2 L788.5 318.4 L789.0 318.7 L789.5 319.0 L790.0 319.3 L790.5 319.7 L791.0 320.0 L791.5 320.4 L792.0 320.7 L792.5 321.1 L793.0 321.6 L793.5 322.0 L794.0 322.5 L794.5 323.0 L795.0 323.6 L795.5 324.2 L796.0 324.8 L796.5 325.5 L797.0 326.2 L797.5 327.0 L798.0 327.7 L798.5 328.5 L799.0 329.4 L799.5 330.3 L800.0 331.2 L800.5 332.2 L801.0 333.4 L801.5 334.5 L802.0 335.7 L802.5 336.9 L803.0 338.2 L803.5 339.4 L804.0 340.6 L804.5 341.7 L805.0 342.8 L805.5 343.9 L806.0 345.0 L806.5 346.2 L807.0 347.4 L807.5 348.7 L808.0 350.0 L808.5 351.5 L809.0 353.2 L809.5 355.1 L810.0 357.0 L810.5 358.9 L811.0 360.8 L811.5 362.6 L812.0 364.3 L812.5 366.1 L813.0 367.8 L813.5 369.6 L814.0 371.2 L814.5 372.9 L815.0 374.5 L815.5 376.0 L816.0 377.5 L816.5 378.9 L817.0 380.3 L817.5 381.7 L818.0 383.1 L818.5 384.4 L819.0 385.8 L819.5 387.0 L820.0 388.2 L820.5 389.4 L821.0 390.5 L821.5 391.5 L822.0 392.4 L822.5 393.3 L823.0 394.1 L823.5 394.8 L824.0 395.6 L824.5 396.3 L825.0 397.0 L825.5 397.6 L826.0 398.3 L826.5 398.9 L827.0 399.4 L827.5 399.9 L828.0 400.4 L828.5 400.8 L829.0 401.2 L829.5 401.5 L830.0 401.8 L830.5 402.1 L831.0 402.4 L831.5 402.7 L832.0 402.9 L832.5 403.2 L833.0 403.4 L833.5 403.7 L834.0 403.9 L834.5 404.1 L835.0 404.3 L835.5 404.5 L836.0 404.7 L836.5 404.8 L837.0 405.0 L837.5 405.1 L838.0 405.2 L838.5 405.4 L839.0 405.5 L839.5 405.6 L840.0 405.7 L840.5 405.8 L841.0 405.8 L841.5 405.9 L842.0 406.0 L842.5 406.1 L843.0 406.1 L843.5 406.2 L844.0 406.2 L844.5 406.3 L845.0 406.3" fill="none" stroke="#111" stroke-width="1.35" stroke-dasharray="5 3.1"/>
<path d="M688.0 406.3 L688.5 406.3 L689.0 406.3 L689.5 406.3 L690.0 406.3 L690.5 406.3 L691.0 406.3 L691.5 406.3 L692.0 406.3 L692.5 406.3 L693.0 406.3 L693.5 406.3 L694.0 406.3 L694.5 406.3 L695.0 406.3 L695.5 406.3 L696.0 406.3 L696.5 406.2 L697.0 406.2 L697.5 406.2 L698.0 406.2 L698.5 406.2 L699.0 406.2 L699.5 406.2 L700.0 406.2 L700.5 406.2 L701.0 406.2 L701.5 406.2 L702.0 406.2 L702.5 406.2 L703.0 406.1 L703.5 406.1 L704.0 406.1 L704.5 406.1 L705.0 406.1 L705.5 406.1 L706.0 406.1 L706.5 406.1 L707.0 406.0 L707.5 406.0 L708.0 406.0 L708.5 405.9 L709.0 405.9 L709.5 405.9 L710.0 405.8 L710.5 405.8 L711.0 405.7 L711.5 405.7 L712.0 405.6 L712.5 405.6 L713.0 405.5 L713.5 405.5 L714.0 405.4 L714.5 405.2 L715.0 405.1 L715.5 404.9 L716.0 404.7 L716.5 404.5 L717.0 404.2 L717.5 403.9 L718.0 403.7 L718.5 403.4 L719.0 403.0 L719.5 402.7 L720.0 402.4 L720.5 402.0 L721.0 401.6 L721.5 401.2 L722.0 400.8 L722.5 400.3 L723.0 399.8 L723.5 399.3 L724.0 398.6 L724.5 398.0 L725.0 397.3 L725.5 396.5 L726.0 395.7 L726.5 394.9 L727.0 394.0 L727.5 393.1 L728.0 392.2 L728.5 391.2 L729.0 390.2 L729.5 389.1 L730.0 387.9 L730.5 386.6 L731.0 385.1 L731.5 383.5 L732.0 381.7 L732.5 379.9 L733.0 378.0 L733.5 376.0 L734.0 373.9 L734.5 371.8 L735.0 369.7 L735.5 367.4 L736.0 364.9 L736.5 362.3 L737.0 359.6 L737.5 356.9 L738.0 354.1 L738.5 351.3 L739.0 348.5 L739.5 345.8 L740.0 342.9 L740.5 339.9 L741.0 336.8 L741.5 333.4 L742.0 329.7 L742.5 325.2 L743.0 320.8 L743.5 316.8 L744.0 312.9 L744.5 309.1 L745.0 305.3 L745.5 301.7 L746.0 298.2 L746.5 294.6 L747.0 291.0 L747.5 287.6 L748.0 284.5 L748.5 281.9 L749.0 279.6 L749.5 277.3 L750.0 275.2 L750.5 273.2 L751.0 271.4 L751.5 269.8 L752.0 268.4 L752.5 267.2 L753.0 266.2 L753.5 265.2 L754.0 264.3 L754.5 263.4 L755.0 262.6 L755.5 261.8 L756.0 261.1 L756.5 260.4 L757.0 259.9 L757.5 259.5 L758.0 259.2 L758.5 259.1 L759.0 259.1 L759.5 259.3 L760.0 259.5 L760.5 259.9 L761.0 260.4 L761.5 261.0 L762.0 261.7 L762.5 262.5 L763.0 263.3 L763.5 264.2 L764.0 265.2 L764.5 266.2 L765.0 267.2 L765.5 268.6 L766.0 270.5 L766.5 272.7 L767.0 275.1 L767.5 277.7 L768.0 280.3 L768.5 283.0 L769.0 285.9 L769.5 289.0 L770.0 292.4 L770.5 295.8 L771.0 299.2 L771.5 302.4 L772.0 305.5 L772.5 308.5 L773.0 311.5 L773.5 314.5 L774.0 317.5 L774.5 320.6 L775.0 323.9 L775.5 327.1 L776.0 330.5 L776.5 333.9 L777.0 337.4 L777.5 341.3 L778.0 345.5 L778.5 349.7 L779.0 353.8 L779.5 357.6 L780.0 360.9 L780.5 363.5 L781.0 365.6 L781.5 367.6 L782.0 369.4 L782.5 371.0 L783.0 372.6 L783.5 374.0 L784.0 375.3 L784.5 376.6 L785.0 377.8 L785.5 379.0 L786.0 380.2 L786.5 381.4 L787.0 382.5 L787.5 383.6 L788.0 384.7 L788.5 385.6 L789.0 386.4 L789.5 387.0 L790.0 387.6 L790.5 388.1 L791.0 388.6 L791.5 389.1 L792.0 389.6 L792.5 389.9 L793.0 390.2 L793.5 390.4 L794.0 390.4 L794.5 390.3 L795.0 390.2 L795.5 390.1 L796.0 389.9 L796.5 389.6 L797.0 389.4 L797.5 389.1 L798.0 388.8 L798.5 388.5 L799.0 388.1 L799.5 387.6 L800.0 387.1 L800.5 386.5 L801.0 386.0 L801.5 385.5 L802.0 385.0 L802.5 384.5 L803.0 384.0 L803.5 383.5 L804.0 383.0 L804.5 382.5 L805.0 382.0 L805.5 381.5 L806.0 381.0 L806.5 380.6 L807.0 380.1 L807.5 379.7 L808.0 379.4 L808.5 379.1 L809.0 378.8 L809.5 378.5 L810.0 378.3 L810.5 378.0 L811.0 377.7 L811.5 377.5 L812.0 377.3 L812.5 377.1 L813.0 377.0 L813.5 376.9 L814.0 376.8 L814.5 376.8 L815.0 376.9 L815.5 377.1 L816.0 377.4 L816.5 377.8 L817.0 378.2 L817.5 378.7 L818.0 379.2 L818.5 379.7 L819.0 380.2 L819.5 380.7 L820.0 381.2 L820.5 381.7 L821.0 382.3 L821.5 382.9 L822.0 383.6 L822.5 384.3 L823.0 385.0 L823.5 385.7 L824.0 386.4 L824.5 387.2 L825.0 387.9 L825.5 388.6 L826.0 389.3 L826.5 390.0 L827.0 390.7 L827.5 391.3 L828.0 391.9 L828.5 392.5 L829.0 393.1 L829.5 393.6 L830.0 394.2 L830.5 394.7 L831.0 395.3 L831.5 395.8 L832.0 396.3 L832.5 396.8 L833.0 397.3 L833.5 397.8 L834.0 398.3 L834.5 398.7 L835.0 399.2 L835.5 399.6 L836.0 400.0 L836.5 400.4 L837.0 400.8 L837.5 401.1 L838.0 401.5 L838.5 401.8 L839.0 402.1 L839.5 402.5 L840.0 402.8 L840.5 403.1 L841.0 403.4 L841.5 403.7 L842.0 403.9 L842.5 404.2 L843.0 404.5 L843.5 404.8 L844.0 405.0 L844.5 405.3 L845.0 405.5" fill="none" stroke="#1a8a1a" stroke-width="2.7"/>
<path d="M848.0 406.7 L848.5 406.7 L849.0 406.7 L849.5 406.7 L850.0 406.7 L850.5 406.6 L851.0 406.6 L851.5 406.6 L852.0 406.6 L852.5 406.6 L853.0 406.6 L853.5 406.5 L854.0 406.5 L854.5 406.5 L855.0 406.5 L855.5 406.4 L856.0 406.4 L856.5 406.4 L857.0 406.3 L857.5 406.3 L858.0 406.2 L858.5 406.1 L859.0 406.1 L859.5 406.0 L860.0 405.8 L860.5 405.6 L861.0 405.3 L861.5 405.0 L862.0 404.6 L862.5 404.2 L863.0 403.8 L863.5 403.4 L864.0 402.9 L864.5 402.4 L865.0 401.9 L865.5 401.4 L866.0 401.0 L866.5 400.5 L867.0 400.0 L867.5 399.5 L868.0 399.0 L868.5 398.5 L869.0 398.0 L869.5 397.5 L870.0 396.9 L870.5 396.3 L871.0 395.7 L871.5 395.1 L872.0 394.5 L872.5 393.8 L873.0 393.1 L873.5 392.4 L874.0 391.6 L874.5 390.8 L875.0 389.9 L875.5 389.0 L876.0 388.0 L876.5 386.9 L877.0 385.8 L877.5 384.7 L878.0 383.6 L878.5 382.6 L879.0 381.5 L879.5 380.5 L880.0 379.4 L880.5 378.3 L881.0 377.2 L881.5 376.1 L882.0 374.9 L882.5 373.9 L883.0 372.8 L883.5 371.9 L884.0 371.0 L884.5 370.3 L885.0 369.6 L885.5 369.0 L886.0 368.4 L886.5 367.9 L887.0 367.4 L887.5 367.1 L888.0 366.8 L888.5 366.6 L889.0 366.4 L889.5 366.2 L890.0 366.1 L890.5 366.0 L891.0 365.9 L891.5 365.9 L892.0 365.9 L892.5 366.0 L893.0 366.2 L893.5 366.3 L894.0 366.5 L894.5 366.8 L895.0 367.0 L895.5 367.3 L896.0 367.6 L896.5 368.1 L897.0 368.6 L897.5 369.1 L898.0 369.7 L898.5 370.2 L899.0 370.9 L899.5 371.6 L900.0 372.4 L900.5 373.3 L901.0 374.2 L901.5 375.1 L902.0 376.1 L902.5 377.0 L903.0 378.0 L903.5 378.9 L904.0 379.9 L904.5 380.9 L905.0 381.9 L905.5 383.0 L906.0 384.1 L906.5 385.1 L907.0 386.1 L907.5 387.0 L908.0 387.9 L908.5 388.6 L909.0 389.3 L909.5 390.0 L910.0 390.7 L910.5 391.4 L911.0 392.0 L911.5 392.6 L912.0 393.1 L912.5 393.7 L913.0 394.2 L913.5 394.7 L914.0 395.2 L914.5 395.7 L915.0 396.2 L915.5 396.7 L916.0 397.2 L916.5 397.7 L917.0 398.1 L917.5 398.5 L918.0 398.9 L918.5 399.2 L919.0 399.5 L919.5 399.8 L920.0 400.0 L920.5 400.1 L921.0 400.3 L921.5 400.4 L922.0 400.5 L922.5 400.6 L923.0 400.7 L923.5 400.8 L924.0 400.8 L924.5 400.8 L925.0 400.6 L925.5 400.4 L926.0 400.2 L926.5 399.9 L927.0 399.6 L927.5 399.3 L928.0 398.8 L928.5 398.2 L929.0 397.5 L929.5 396.7 L930.0 395.9 L930.5 395.0 L931.0 394.1 L931.5 393.1 L932.0 392.2 L932.5 391.2 L933.0 390.3 L933.5 389.3 L934.0 388.2 L934.5 387.1 L935.0 386.0 L935.5 384.9 L936.0 383.6 L936.5 382.4 L937.0 381.1 L937.5 379.8 L938.0 378.4 L938.5 376.8 L939.0 375.2 L939.5 373.5 L940.0 371.7 L940.5 369.9 L941.0 368.2 L941.5 366.5 L942.0 365.0 L942.5 363.5 L943.0 362.0 L943.5 360.5 L944.0 358.9 L944.5 357.2 L945.0 355.3 L945.5 353.2 L946.0 351.1 L946.5 349.0 L947.0 347.1 L947.5 345.3 L948.0 343.7 L948.5 342.1 L949.0 340.5 L949.5 339.1 L950.0 337.6 L950.5 336.3 L951.0 334.9 L951.5 333.6 L952.0 332.3 L952.5 330.9 L953.0 329.7 L953.5 328.6 L954.0 327.8 L954.5 327.1 L955.0 326.5 L955.5 326.0 L956.0 325.5 L956.5 325.1 L957.0 324.9 L957.5 324.9 L958.0 325.0 L958.5 325.3 L959.0 325.6 L959.5 325.9 L960.0 326.4 L960.5 326.8 L961.0 327.3 L961.5 328.0 L962.0 328.8 L962.5 329.7 L963.0 330.7 L963.5 331.7 L964.0 332.8 L964.5 334.0 L965.0 335.2 L965.5 336.6 L966.0 338.1 L966.5 339.5 L967.0 341.1 L967.5 342.6 L968.0 344.2 L968.5 345.9 L969.0 347.6 L969.5 349.4 L970.0 351.3 L970.5 353.1 L971.0 354.9 L971.5 356.7 L972.0 358.5 L972.5 360.4 L973.0 362.3 L973.5 364.2 L974.0 366.1 L974.5 368.0 L975.0 369.8 L975.5 371.6 L976.0 373.3 L976.5 375.0 L977.0 376.5 L977.5 378.0 L978.0 379.4 L978.5 380.8 L979.0 382.1 L979.5 383.4 L980.0 384.7 L980.5 385.9 L981.0 387.1 L981.5 388.2 L982.0 389.3 L982.5 390.4 L983.0 391.4 L983.5 392.4 L984.0 393.4 L984.5 394.4 L985.0 395.3 L985.5 396.2 L986.0 397.1 L986.5 397.9 L987.0 398.7 L987.5 399.4 L988.0 400.0 L988.5 400.6 L989.0 401.2 L989.5 401.8 L990.0 402.5 L990.5 403.0 L991.0 403.6 L991.5 404.1 L992.0 404.6 L992.5 405.0 L993.0 405.4 L993.5 405.7 L994.0 405.9 L994.5 406.1 L995.0 406.1 L995.5 406.2 L996.0 406.2 L996.5 406.3 L997.0 406.3 L997.5 406.4 L998.0 406.4 L998.5 406.4 L999.0 406.5 L999.5 406.5 L1000.0 406.5 L1000.5 406.6 L1001.0 406.6 L1001.5 406.6 L1002.0 406.6 L1002.5 406.6 L1003.0 406.7 L1003.5 406.7 L1004.0 406.7 L1004.5 406.7 L1005.0 406.7 L1005.5 406.7 L1006.0 406.7" fill="none" stroke="#2224b0" stroke-width="1.35" stroke-dasharray="5 3.1"/>
<path d="M848.0 406.7 L848.5 406.7 L849.0 406.7 L849.5 406.7 L850.0 406.7 L850.5 406.7 L851.0 406.7 L851.5 406.7 L852.0 406.7 L852.5 406.7 L853.0 406.7 L853.5 406.7 L854.0 406.7 L854.5 406.7 L855.0 406.7 L855.5 406.7 L856.0 406.7 L856.5 406.7 L857.0 406.7 L857.5 406.7 L858.0 406.7 L858.5 406.7 L859.0 406.7 L859.5 406.7 L860.0 406.7 L860.5 406.7 L861.0 406.7 L861.5 406.7 L862.0 406.7 L862.5 406.7 L863.0 406.7 L863.5 406.7 L864.0 406.7 L864.5 406.7 L865.0 406.7 L865.5 406.7 L866.0 406.7 L866.5 406.7 L867.0 406.7 L867.5 406.7 L868.0 406.7 L868.5 406.7 L869.0 406.7 L869.5 406.7 L870.0 406.7 L870.5 406.7 L871.0 406.7 L871.5 406.7 L872.0 406.7 L872.5 406.7 L873.0 406.7 L873.5 406.7 L874.0 406.7 L874.5 406.7 L875.0 406.7 L875.5 406.7 L876.0 406.7 L876.5 406.7 L877.0 406.7 L877.5 406.7 L878.0 406.7 L878.5 406.7 L879.0 406.7 L879.5 406.7 L880.0 406.7 L880.5 406.7 L881.0 406.7 L881.5 406.7 L882.0 406.6 L882.5 406.6 L883.0 406.6 L883.5 406.5 L884.0 406.5 L884.5 406.4 L885.0 406.4 L885.5 406.3 L886.0 406.2 L886.5 406.1 L887.0 406.0 L887.5 406.0 L888.0 405.9 L888.5 405.8 L889.0 405.7 L889.5 405.6 L890.0 405.4 L890.5 405.3 L891.0 405.1 L891.5 404.9 L892.0 404.6 L892.5 404.3 L893.0 403.9 L893.5 403.5 L894.0 403.0 L894.5 402.5 L895.0 402.0 L895.5 401.5 L896.0 401.0 L896.5 400.5 L897.0 399.9 L897.5 399.4 L898.0 398.9 L898.5 398.4 L899.0 397.9 L899.5 397.4 L900.0 396.8 L900.5 396.3 L901.0 395.7 L901.5 395.1 L902.0 394.5 L902.5 393.9 L903.0 393.3 L903.5 392.6 L904.0 391.9 L904.5 391.2 L905.0 390.5 L905.5 389.8 L906.0 389.0 L906.5 388.2 L907.0 387.4 L907.5 386.6 L908.0 385.7 L908.5 384.8 L909.0 383.9 L909.5 382.9 L910.0 382.0 L910.5 381.1 L911.0 380.1 L911.5 379.2 L912.0 378.2 L912.5 377.2 L913.0 376.1 L913.5 375.1 L914.0 374.1 L914.5 373.0 L915.0 372.0 L915.5 371.0 L916.0 370.0 L916.5 369.0 L917.0 367.9 L917.5 366.9 L918.0 365.8 L918.5 364.7 L919.0 363.7 L919.5 362.7 L920.0 361.7 L920.5 360.9 L921.0 360.1 L921.5 359.5 L922.0 358.9 L922.5 358.4 L923.0 357.9 L923.5 357.5 L924.0 357.0 L924.5 356.6 L925.0 356.2 L925.5 355.9 L926.0 355.6 L926.5 355.3 L927.0 355.1 L927.5 354.8 L928.0 354.7 L928.5 354.5 L929.0 354.3 L929.5 354.2 L930.0 354.0 L930.5 353.8 L931.0 353.6 L931.5 353.4 L932.0 353.1 L932.5 352.9 L933.0 352.6 L933.5 352.3 L934.0 352.0 L934.5 351.7 L935.0 351.4 L935.5 351.1 L936.0 350.7 L936.5 350.4 L937.0 350.0 L937.5 349.6 L938.0 349.2 L938.5 348.8 L939.0 348.3 L939.5 347.8 L940.0 347.2 L940.5 346.5 L941.0 345.8 L941.5 345.1 L942.0 344.3 L942.5 343.5 L943.0 342.6 L943.5 341.7 L944.0 340.7 L944.5 339.6 L945.0 338.6 L945.5 337.6 L946.0 336.8 L946.5 335.9 L947.0 335.0 L947.5 334.2 L948.0 333.4 L948.5 332.7 L949.0 332.0 L949.5 331.5 L950.0 331.0 L950.5 330.6 L951.0 330.1 L951.5 329.7 L952.0 329.4 L952.5 329.2 L953.0 329.0 L953.5 329.0 L954.0 329.2 L954.5 329.5 L955.0 329.9 L955.5 330.4 L956.0 330.9 L956.5 331.5 L957.0 332.2 L957.5 333.0 L958.0 334.0 L958.5 335.1 L959.0 336.2 L959.5 337.3 L960.0 338.5 L960.5 339.8 L961.0 341.1 L961.5 342.5 L962.0 343.9 L962.5 345.3 L963.0 346.8 L963.5 348.2 L964.0 349.7 L964.5 351.3 L965.0 353.0 L965.5 354.9 L966.0 356.9 L966.5 359.0 L967.0 361.1 L967.5 363.2 L968.0 365.3 L968.5 367.3 L969.0 369.0 L969.5 370.8 L970.0 372.4 L970.5 374.1 L971.0 375.7 L971.5 377.3 L972.0 378.8 L972.5 380.2 L973.0 381.6 L973.5 383.0 L974.0 384.3 L974.5 385.5 L975.0 386.6 L975.5 387.8 L976.0 388.9 L976.5 389.9 L977.0 391.0 L977.5 391.9 L978.0 392.9 L978.5 393.8 L979.0 394.6 L979.5 395.4 L980.0 396.2 L980.5 397.0 L981.0 397.7 L981.5 398.4 L982.0 399.2 L982.5 399.9 L983.0 400.5 L983.5 401.2 L984.0 401.8 L984.5 402.3 L985.0 402.8 L985.5 403.3 L986.0 403.6 L986.5 403.9 L987.0 404.2 L987.5 404.4 L988.0 404.7 L988.5 404.9 L989.0 405.1 L989.5 405.3 L990.0 405.5 L990.5 405.7 L991.0 405.9 L991.5 406.0 L992.0 406.2 L992.5 406.3 L993.0 406.4 L993.5 406.5 L994.0 406.5 L994.5 406.6 L995.0 406.6 L995.5 406.6 L996.0 406.6 L996.5 406.6 L997.0 406.6 L997.5 406.6 L998.0 406.6 L998.5 406.7 L999.0 406.7 L999.5 406.7 L1000.0 406.7 L1000.5 406.7 L1001.0 406.7 L1001.5 406.7 L1002.0 406.7 L1002.5 406.7 L1003.0 406.7 L1003.5 406.7 L1004.0 406.7 L1004.5 406.7 L1005.0 406.7 L1005.5 406.7 L1006.0 406.7" fill="none" stroke="#d43c3c" stroke-width="1.35" stroke-dasharray="5 3.1"/>
<path d="M848.0 406.7 L848.5 406.7 L849.0 406.7 L849.5 406.7 L850.0 406.7 L850.5 406.7 L851.0 406.7 L851.5 406.7 L852.0 406.7 L852.5 406.7 L853.0 406.7 L853.5 406.7 L854.0 406.7 L854.5 406.7 L855.0 406.7 L855.5 406.7 L856.0 406.7 L856.5 406.7 L857.0 406.7 L857.5 406.7 L858.0 406.7 L858.5 406.7 L859.0 406.7 L859.5 406.7 L860.0 406.7 L860.5 406.7 L861.0 406.7 L861.5 406.7 L862.0 406.7 L862.5 406.7 L863.0 406.7 L863.5 406.7 L864.0 406.7 L864.5 406.7 L865.0 406.7 L865.5 406.7 L866.0 406.7 L866.5 406.7 L867.0 406.7 L867.5 406.7 L868.0 406.6 L868.5 406.6 L869.0 406.6 L869.5 406.6 L870.0 406.6 L870.5 406.5 L871.0 406.5 L871.5 406.5 L872.0 406.4 L872.5 406.2 L873.0 406.0 L873.5 405.8 L874.0 405.5 L874.5 405.2 L875.0 404.9 L875.5 404.5 L876.0 404.1 L876.5 403.8 L877.0 403.4 L877.5 403.0 L878.0 402.6 L878.5 402.2 L879.0 401.8 L879.5 401.4 L880.0 400.9 L880.5 400.4 L881.0 399.9 L881.5 399.4 L882.0 398.8 L882.5 398.2 L883.0 397.6 L883.5 397.0 L884.0 396.3 L884.5 395.6 L885.0 394.8 L885.5 394.1 L886.0 393.3 L886.5 392.4 L887.0 391.4 L887.5 390.3 L888.0 389.2 L888.5 387.9 L889.0 386.6 L889.5 385.2 L890.0 383.8 L890.5 382.4 L891.0 380.9 L891.5 379.5 L892.0 378.0 L892.5 376.4 L893.0 374.8 L893.5 373.1 L894.0 371.4 L894.5 369.6 L895.0 367.9 L895.5 366.2 L896.0 364.6 L896.5 363.0 L897.0 361.5 L897.5 359.9 L898.0 358.3 L898.5 356.7 L899.0 354.9 L899.5 353.1 L900.0 351.0 L900.5 348.7 L901.0 346.1 L901.5 343.5 L902.0 340.9 L902.5 338.5 L903.0 336.4 L903.5 334.7 L904.0 333.2 L904.5 331.8 L905.0 330.2 L905.5 328.4 L906.0 326.5 L906.5 324.4 L907.0 322.3 L907.5 320.0 L908.0 317.7 L908.5 315.4 L909.0 313.1 L909.5 310.8 L910.0 308.5 L910.5 306.1 L911.0 303.6 L911.5 301.2 L912.0 298.8 L912.5 296.3 L913.0 293.9 L913.5 291.5 L914.0 289.1 L914.5 286.6 L915.0 284.1 L915.5 281.7 L916.0 279.4 L916.5 277.3 L917.0 275.5 L917.5 273.8 L918.0 272.0 L918.5 270.3 L919.0 268.7 L919.5 267.2 L920.0 265.9 L920.5 264.9 L921.0 264.2 L921.5 264.0 L922.0 264.3 L922.5 265.0 L923.0 266.1 L923.5 267.5 L924.0 269.2 L924.5 270.9 L925.0 272.7 L925.5 274.4 L926.0 276.0 L926.5 277.5 L927.0 279.0 L927.5 280.6 L928.0 282.2 L928.5 283.8 L929.0 285.5 L929.5 287.3 L930.0 289.1 L930.5 291.0 L931.0 293.0 L931.5 295.1 L932.0 297.3 L932.5 299.6 L933.0 302.0 L933.5 304.5 L934.0 307.3 L934.5 310.3 L935.0 313.5 L935.5 316.7 L936.0 319.7 L936.5 322.4 L937.0 324.9 L937.5 327.4 L938.0 329.7 L938.5 332.1 L939.0 334.4 L939.5 336.7 L940.0 338.9 L940.5 341.0 L941.0 343.3 L941.5 345.7 L942.0 348.4 L942.5 351.4 L943.0 354.6 L943.5 357.5 L944.0 360.2 L944.5 362.7 L945.0 365.2 L945.5 367.5 L946.0 369.7 L946.5 371.8 L947.0 373.8 L947.5 375.7 L948.0 377.6 L948.5 379.4 L949.0 381.1 L949.5 382.8 L950.0 384.4 L950.5 385.8 L951.0 387.2 L951.5 388.4 L952.0 389.7 L952.5 390.8 L953.0 392.0 L953.5 393.0 L954.0 394.1 L954.5 395.0 L955.0 395.9 L955.5 396.8 L956.0 397.6 L956.5 398.3 L957.0 399.0 L957.5 399.7 L958.0 400.3 L958.5 401.0 L959.0 401.6 L959.5 402.2 L960.0 402.8 L960.5 403.3 L961.0 403.8 L961.5 404.3 L962.0 404.6 L962.5 405.0 L963.0 405.2 L963.5 405.4 L964.0 405.5 L964.5 405.7 L965.0 405.8 L965.5 405.9 L966.0 406.0 L966.5 406.1 L967.0 406.2 L967.5 406.3 L968.0 406.4 L968.5 406.5 L969.0 406.5 L969.5 406.6 L970.0 406.6 L970.5 406.7 L971.0 406.7 L971.5 406.7 L972.0 406.7 L972.5 406.7 L973.0 406.7 L973.5 406.7 L974.0 406.7 L974.5 406.7 L975.0 406.7 L975.5 406.7 L976.0 406.7 L976.5 406.7 L977.0 406.7 L977.5 406.7 L978.0 406.7 L978.5 406.7 L979.0 406.7 L979.5 406.7 L980.0 406.7 L980.5 406.7 L981.0 406.7 L981.5 406.7 L982.0 406.7 L982.5 406.7 L983.0 406.7 L983.5 406.7 L984.0 406.7 L984.5 406.7 L985.0 406.7 L985.5 406.7 L986.0 406.7 L986.5 406.7 L987.0 406.7 L987.5 406.7 L988.0 406.7 L988.5 406.7 L989.0 406.7 L989.5 406.7 L990.0 406.7 L990.5 406.7 L991.0 406.7 L991.5 406.7 L992.0 406.7 L992.5 406.7 L993.0 406.7 L993.5 406.7 L994.0 406.7 L994.5 406.7 L995.0 406.7 L995.5 406.7 L996.0 406.7 L996.5 406.7 L997.0 406.7 L997.5 406.7 L998.0 406.7 L998.5 406.7 L999.0 406.7 L999.5 406.7 L1000.0 406.7 L1000.5 406.7 L1001.0 406.7 L1001.5 406.7 L1002.0 406.7 L1002.5 406.7 L1003.0 406.7 L1003.5 406.7 L1004.0 406.7 L1004.5 406.7 L1005.0 406.7 L1005.5 406.7 L1006.0 406.7" fill="none" stroke="#2f903c" stroke-width="1.35" stroke-dasharray="5 3.1"/>
<path d="M848.0 406.7 L848.5 406.7 L849.0 406.7 L849.5 406.7 L850.0 406.7 L850.5 406.7 L851.0 406.7 L851.5 406.7 L852.0 406.7 L852.5 406.7 L853.0 406.7 L853.5 406.7 L854.0 406.7 L854.5 406.7 L855.0 406.7 L855.5 406.7 L856.0 406.7 L856.5 406.7 L857.0 406.7 L857.5 406.7 L858.0 406.7 L858.5 406.7 L859.0 406.7 L859.5 406.7 L860.0 406.7 L860.5 406.7 L861.0 406.7 L861.5 406.7 L862.0 406.7 L862.5 406.7 L863.0 406.7 L863.5 406.7 L864.0 406.7 L864.5 406.7 L865.0 406.7 L865.5 406.7 L866.0 406.7 L866.5 406.7 L867.0 406.7 L867.5 406.7 L868.0 406.7 L868.5 406.7 L869.0 406.7 L869.5 406.7 L870.0 406.7 L870.5 406.7 L871.0 406.7 L871.5 406.7 L872.0 406.7 L872.5 406.7 L873.0 406.7 L873.5 406.7 L874.0 406.7 L874.5 406.7 L875.0 406.7 L875.5 406.7 L876.0 406.7 L876.5 406.7 L877.0 406.7 L877.5 406.7 L878.0 406.7 L878.5 406.7 L879.0 406.7 L879.5 406.7 L880.0 406.7 L880.5 406.7 L881.0 406.7 L881.5 406.7 L882.0 406.7 L882.5 406.7 L883.0 406.7 L883.5 406.7 L884.0 406.7 L884.5 406.7 L885.0 406.7 L885.5 406.7 L886.0 406.7 L886.5 406.7 L887.0 406.7 L887.5 406.7 L888.0 406.7 L888.5 406.7 L889.0 406.7 L889.5 406.6 L890.0 406.6 L890.5 406.6 L891.0 406.6 L891.5 406.6 L892.0 406.6 L892.5 406.6 L893.0 406.6 L893.5 406.6 L894.0 406.5 L894.5 406.4 L895.0 406.3 L895.5 406.2 L896.0 406.0 L896.5 405.8 L897.0 405.6 L897.5 405.4 L898.0 405.2 L898.5 404.9 L899.0 404.7 L899.5 404.4 L900.0 404.1 L900.5 403.8 L901.0 403.5 L901.5 403.2 L902.0 402.9 L902.5 402.6 L903.0 402.3 L903.5 402.0 L904.0 401.6 L904.5 401.2 L905.0 400.7 L905.5 400.2 L906.0 399.7 L906.5 399.1 L907.0 398.6 L907.5 397.9 L908.0 397.3 L908.5 396.6 L909.0 395.9 L909.5 395.1 L910.0 394.3 L910.5 393.4 L911.0 392.3 L911.5 391.0 L912.0 389.7 L912.5 388.2 L913.0 386.7 L913.5 385.1 L914.0 383.5 L914.5 381.9 L915.0 380.4 L915.5 378.9 L916.0 377.4 L916.5 376.0 L917.0 374.5 L917.5 373.0 L918.0 371.5 L918.5 369.9 L919.0 368.3 L919.5 366.7 L920.0 364.9 L920.5 363.1 L921.0 361.2 L921.5 359.1 L922.0 357.1 L922.5 355.3 L923.0 353.6 L923.5 351.9 L924.0 350.3 L924.5 348.5 L925.0 346.5 L925.5 344.0 L926.0 341.3 L926.5 338.6 L927.0 336.3 L927.5 334.2 L928.0 332.3 L928.5 330.5 L929.0 328.9 L929.5 327.3 L930.0 325.8 L930.5 324.4 L931.0 323.0 L931.5 321.7 L932.0 320.4 L932.5 319.2 L933.0 317.9 L933.5 316.7 L934.0 315.5 L934.5 314.2 L935.0 312.9 L935.5 311.7 L936.0 310.5 L936.5 309.4 L937.0 308.3 L937.5 307.4 L938.0 306.5 L938.5 305.6 L939.0 304.8 L939.5 304.0 L940.0 303.3 L940.5 302.7 L941.0 302.2 L941.5 301.8 L942.0 301.4 L942.5 301.1 L943.0 300.8 L943.5 300.6 L944.0 300.4 L944.5 300.4 L945.0 300.5 L945.5 300.7 L946.0 300.9 L946.5 301.2 L947.0 301.6 L947.5 302.0 L948.0 302.4 L948.5 302.9 L949.0 303.5 L949.5 304.2 L950.0 305.0 L950.5 305.9 L951.0 306.8 L951.5 307.8 L952.0 308.9 L952.5 310.1 L953.0 311.4 L953.5 312.8 L954.0 314.3 L954.5 315.7 L955.0 317.2 L955.5 318.7 L956.0 320.2 L956.5 321.8 L957.0 323.4 L957.5 325.1 L958.0 326.7 L958.5 328.4 L959.0 330.0 L959.5 331.5 L960.0 333.1 L960.5 334.7 L961.0 336.3 L961.5 337.9 L962.0 339.6 L962.5 341.2 L963.0 343.0 L963.5 344.7 L964.0 346.5 L964.5 348.3 L965.0 350.2 L965.5 352.1 L966.0 354.2 L966.5 356.2 L967.0 358.2 L967.5 360.3 L968.0 362.5 L968.5 364.6 L969.0 366.8 L969.5 368.8 L970.0 370.8 L970.5 372.7 L971.0 374.4 L971.5 376.1 L972.0 377.6 L972.5 379.2 L973.0 380.6 L973.5 382.1 L974.0 383.4 L974.5 384.7 L975.0 386.0 L975.5 387.2 L976.0 388.4 L976.5 389.6 L977.0 390.8 L977.5 391.9 L978.0 393.1 L978.5 394.1 L979.0 395.2 L979.5 396.1 L980.0 397.0 L980.5 397.8 L981.0 398.5 L981.5 399.1 L982.0 399.7 L982.5 400.2 L983.0 400.8 L983.5 401.4 L984.0 401.9 L984.5 402.4 L985.0 402.8 L985.5 403.3 L986.0 403.7 L986.5 404.1 L987.0 404.4 L987.5 404.7 L988.0 405.0 L988.5 405.2 L989.0 405.3 L989.5 405.4 L990.0 405.5 L990.5 405.6 L991.0 405.7 L991.5 405.8 L992.0 405.9 L992.5 406.0 L993.0 406.1 L993.5 406.2 L994.0 406.2 L994.5 406.3 L995.0 406.4 L995.5 406.4 L996.0 406.5 L996.5 406.5 L997.0 406.6 L997.5 406.6 L998.0 406.6 L998.5 406.7 L999.0 406.7 L999.5 406.7 L1000.0 406.7 L1000.5 406.7 L1001.0 406.7 L1001.5 406.7 L1002.0 406.7 L1002.5 406.7 L1003.0 406.7 L1003.5 406.7 L1004.0 406.7 L1004.5 406.7 L1005.0 406.7 L1005.5 406.7 L1006.0 406.7" fill="none" stroke="#111" stroke-width="1.35" stroke-dasharray="5 3.1"/>
<rect x="685.4" y="91.1" width="322.20000000000005" height="321.6" fill="none" stroke="#1a1a1a" stroke-width="1.4"/>
<line x1="846.3" y1="91.1" x2="846.3" y2="412.7" stroke="#1a1a1a" stroke-width="1.4"/>
<line x1="685.4" y1="251.8" x2="1007.6" y2="251.8" stroke="#1a1a1a" stroke-width="1.4"/>
<line x1="705.5" y1="412.7" x2="705.5" y2="415.9" stroke="#1a1a1a" stroke-width="1.1"/>
<line x1="725.8" y1="412.7" x2="725.8" y2="415.9" stroke="#1a1a1a" stroke-width="1.1"/>
<line x1="746.0" y1="412.7" x2="746.0" y2="415.9" stroke="#1a1a1a" stroke-width="1.1"/>
<line x1="766.2" y1="412.7" x2="766.2" y2="415.9" stroke="#1a1a1a" stroke-width="1.1"/>
<line x1="786.5" y1="412.7" x2="786.5" y2="415.9" stroke="#1a1a1a" stroke-width="1.1"/>
<line x1="806.8" y1="412.7" x2="806.8" y2="415.9" stroke="#1a1a1a" stroke-width="1.1"/>
<line x1="827.0" y1="412.7" x2="827.0" y2="415.9" stroke="#1a1a1a" stroke-width="1.1"/>
<text x="705.9" y="426.8" font-size="13" font-weight="bold" fill="#111" text-anchor="middle" textLength="28.8" lengthAdjust="spacingAndGlyphs">2200</text>
<text x="746.4" y="426.8" font-size="13" font-weight="bold" fill="#111" text-anchor="middle" textLength="28.8" lengthAdjust="spacingAndGlyphs">2180</text>
<text x="786.9" y="426.8" font-size="13" font-weight="bold" fill="#111" text-anchor="middle" textLength="28.8" lengthAdjust="spacingAndGlyphs">2160</text>
<text x="827.4" y="426.8" font-size="13" font-weight="bold" fill="#111" text-anchor="middle" textLength="28.8" lengthAdjust="spacingAndGlyphs">2140</text>
<line x1="866.5" y1="412.7" x2="866.5" y2="415.9" stroke="#1a1a1a" stroke-width="1.1"/>
<line x1="887.1" y1="412.7" x2="887.1" y2="415.9" stroke="#1a1a1a" stroke-width="1.1"/>
<line x1="907.7" y1="412.7" x2="907.7" y2="415.9" stroke="#1a1a1a" stroke-width="1.1"/>
<line x1="928.3" y1="412.7" x2="928.3" y2="415.9" stroke="#1a1a1a" stroke-width="1.1"/>
<line x1="948.9" y1="412.7" x2="948.9" y2="415.9" stroke="#1a1a1a" stroke-width="1.1"/>
<line x1="969.5" y1="412.7" x2="969.5" y2="415.9" stroke="#1a1a1a" stroke-width="1.1"/>
<line x1="990.1" y1="412.7" x2="990.1" y2="415.9" stroke="#1a1a1a" stroke-width="1.1"/>
<text x="866.9" y="426.8" font-size="13" font-weight="bold" fill="#111" text-anchor="middle" textLength="28.8" lengthAdjust="spacingAndGlyphs">2200</text>
<text x="908.1" y="426.8" font-size="13" font-weight="bold" fill="#111" text-anchor="middle" textLength="28.8" lengthAdjust="spacingAndGlyphs">2180</text>
<text x="949.3" y="426.8" font-size="13" font-weight="bold" fill="#111" text-anchor="middle" textLength="28.8" lengthAdjust="spacingAndGlyphs">2160</text>
<text x="990.5" y="426.8" font-size="13" font-weight="bold" fill="#111" text-anchor="middle" textLength="28.8" lengthAdjust="spacingAndGlyphs">2140</text>
<text x="793.8" y="442.2" font-size="12" fill="#222" font-weight="normal">Wavenumber (cm<tspan font-size="8" dy="-4.5">-1</tspan><tspan dy="4.5">)</tspan></text>
<text x="0" y="0" font-size="12" fill="#222" font-weight="normal" text-anchor="middle" textLength="98" lengthAdjust="spacingAndGlyphs" transform="translate(676.2 231.4) rotate(-90)">Absorbance (a.u.)</text>
<text x="693.6" y="110.4" font-size="14.8" font-weight="bold" fill="#1616cc" textLength="39.5" lengthAdjust="spacingAndGlyphs">(001)</text>
<text x="693.6" y="128.6" font-size="14.8" font-weight="bold" fill="#d81e1e" textLength="52.5" lengthAdjust="spacingAndGlyphs">(010)R</text>
<text x="693.6" y="146.7" font-size="14.8" font-weight="bold" fill="#0a0a0a" textLength="97.8" lengthAdjust="spacingAndGlyphs">(010)_P-rich</text>
<text x="693.6" y="164.8" font-size="14.8" font-weight="bold" fill="#26a026" textLength="107.8" lengthAdjust="spacingAndGlyphs">(010)_Ca-rich</text>
<text x="806.5" y="106.6" font-size="14.2" font-weight="bold" fill="#111" textLength="35.6" lengthAdjust="spacingAndGlyphs">1 CO</text>
<text x="968.5" y="105.5" font-size="14.2" font-weight="bold" fill="#111" textLength="35.3" lengthAdjust="spacingAndGlyphs">2 CO</text>
<text x="970" y="267.3" font-size="14.2" font-weight="bold" fill="#111" textLength="34" lengthAdjust="spacingAndGlyphs">3 CO</text>
<rect x="770" y="231.6" width="173.6" height="56.1" fill="#fdfdfd" stroke="#2a2a2a" stroke-width="1.6"/>
<g font-family="'Liberation Serif', serif" fill="#111"><text x="773.8" y="258.6" font-size="21" font-style="italic" textLength="13.5" lengthAdjust="spacingAndGlyphs">T</text><text x="788.6" y="259.6" font-size="24">(</text><text x="796.4" y="258.6" font-size="21" font-style="italic" textLength="11.5" lengthAdjust="spacingAndGlyphs">ν</text><text x="808.3" y="259.6" font-size="24">)</text><text x="825.6" y="261" font-size="24" textLength="14.6" lengthAdjust="spacingAndGlyphs">=</text><text x="850.6" y="260.6" font-size="38" textLength="24.5" lengthAdjust="spacingAndGlyphs" stroke="#111" stroke-width="0.7">∑</text><text x="861.2" y="285.4" font-size="13" font-style="italic">i</text><text x="883.5" y="258.6" font-size="21" font-style="italic" textLength="11.5" lengthAdjust="spacingAndGlyphs">w</text><text x="895.3" y="264.4" font-size="13" font-style="italic">i</text><text x="899.5" y="258.6" font-size="21" font-style="italic" textLength="10.5" lengthAdjust="spacingAndGlyphs">S</text><text x="910" y="264.4" font-size="13" font-style="italic">i</text><text x="912.5" y="259.6" font-size="24">(</text><text x="921" y="258.6" font-size="21" font-style="italic" textLength="11.5" lengthAdjust="spacingAndGlyphs">ν</text><text x="933.5" y="259.6" font-size="24">)</text></g>
<defs><radialGradient id="lz"><stop offset="0" stop-color="#ff5070" stop-opacity="0.9"/><stop offset="0.5" stop-color="#ff7090" stop-opacity="0.45"/><stop offset="1" stop-color="#ff90a8" stop-opacity="0"/></radialGradient></defs><circle cx="990.3" cy="244.3" r="7.5" fill="url(#lz)"/><circle cx="990.3" cy="244.3" r="2.9" fill="#e01c38"/><circle cx="990.3" cy="244.3" r="1.2" fill="#ffc0c8"/>
<text x="462.3" y="45.3" font-size="45.3" font-weight="normal" fill="#0a0a0a" text-anchor="start" textLength="354.5" lengthAdjust="spacingAndGlyphs">How does it work?</text><text x="287" y="76.5" font-size="18" font-weight="bold" fill="#111" text-anchor="start" textLength="41" lengthAdjust="spacingAndGlyphs">HA-1</text><text x="588.6" y="429.5" font-size="17" font-weight="bold" fill="#7f7f7f" text-anchor="middle" textLength="66" lengthAdjust="spacingAndGlyphs">ratio of</text><text x="590.8" y="452.2" font-size="17" font-weight="bold" fill="#7f7f7f" text-anchor="middle" textLength="123" lengthAdjust="spacingAndGlyphs">contributions</text><text x="570" y="480.8" font-size="17" font-weight="bold" textLength="35" lengthAdjust="spacingAndGlyphs"><tspan fill="#1e8c2e">1</tspan><tspan fill="#7f7f7f"> : </tspan><tspan fill="#000">3</tspan></text><text x="330" y="530.3" font-size="16" font-weight="bold" fill="#0d0d0d" text-anchor="start" textLength="622.5" lengthAdjust="spacingAndGlyphs">The only combination reproducing the experimental spectum indicates that the</text><text x="466" y="550.5" font-size="16" font-weight="bold" textLength="355" lengthAdjust="spacingAndGlyphs"><tspan fill="#2aa055">(010)_Ca-rich</tspan><tspan fill="#0d0d0d"> : (010) P-rich ratio should be </tspan><tspan fill="#2aa055">1</tspan><tspan fill="#0d0d0d">:3</tspan></text><text x="537.5" y="576.7" font-size="11.2" font-weight="normal" fill="#808080" text-anchor="start" textLength="230" lengthAdjust="spacingAndGlyphs">NaUKMA 2026 – UDel – Pavlo Ivanchenko</text><text x="706" y="465.2" font-size="12.5" font-weight="bold" fill="#111" textLength="288" lengthAdjust="spacingAndGlyphs">Chiatti, F., Sakhno, Y. <tspan font-style="italic">et al.</tspan>&#160; <tspan font-style="italic">J. Phys. Chem. C</tspan>, 117</text><text x="706" y="478.8" font-size="12.5" font-weight="bold" fill="#111" text-anchor="start" textLength="112" lengthAdjust="spacingAndGlyphs">(2013) 25526-25534</text>

<path d="M263.6 527 H295.4 V518 L305.4 535.1 L295.4 553.2 V544.3 H263.6 Z" fill="none" stroke="#c20a0a" stroke-width="2.4" stroke-linejoin="miter" stroke-miterlimit="10"/>
<path d="M1015 527 H984.6 V518 L973.4 535.1 L984.6 553.2 V544.3 H1015 Z" fill="none" stroke="#c20a0a" stroke-width="2.4" stroke-linejoin="miter" stroke-miterlimit="10"/>


<g fill="#1f4f9c" stroke="#1f4f9c" stroke-width="0.35" font-family="'Liberation Serif', serif">
<text x="124.2" y="565.2" font-size="41" textLength="22.5" lengthAdjust="spacingAndGlyphs">U</text>
<text x="146.6" y="553.8" font-size="17.4" textLength="68" lengthAdjust="spacingAndGlyphs">NIVERSITY</text>
<text x="215.6" y="553.8" font-size="10.8" textLength="12" lengthAdjust="spacingAndGlyphs">OF</text>
<text x="130.9" y="581.4" font-size="43.5" textLength="25.7" lengthAdjust="spacingAndGlyphs">D</text>
<text x="156.3" y="571.4" font-size="19.5" textLength="71" lengthAdjust="spacingAndGlyphs">ELAWARE</text>
</g>

</svg>

<div style="position:absolute;left:1028px;top:23.5px;width:229px;height:170.5px;background:#000;border-radius:9px;box-shadow:0 0 20px 5px rgba(0,0,0,0.3);overflow:hidden;">

<svg width="229" height="131" viewBox="0 0 229 131" style="position:absolute;left:0;top:20.5px">
<defs>
 <clipPath id="vclip"><rect x="0" y="1" width="229" height="127.5"/></clipPath>
 <filter id="vb1" x="-10%" y="-10%" width="120%" height="120%"><feGaussianBlur stdDeviation="1.1"/></filter>
 <filter id="vb2" x="-20%" y="-20%" width="140%" height="140%"><feGaussianBlur stdDeviation="2.5"/></filter>
 <pattern id="plaid" x="0" y="0" width="28" height="28" patternUnits="userSpaceOnUse" patternTransform="rotate(-25) translate(2 8)">
  <rect width="28" height="28" fill="#9db4bf"/>
  <rect x="0" y="0" width="14" height="14" fill="#e8eef0"/>
  <rect x="14" y="14" width="14" height="14" fill="#2f5a68"/>
  <rect x="14" y="0" width="14" height="14" fill="#6a929c"/>
 </pattern>
 <linearGradient id="wing" x1="0" y1="0" x2="1" y2="0"><stop offset="0" stop-color="#2266b6"/><stop offset="0.45" stop-color="#18508e"/><stop offset="1" stop-color="#1e2e46"/></linearGradient>
 <radialGradient id="faceg" cx="0.5" cy="0.35" r="0.65"><stop offset="0" stop-color="#fbf9f8"/><stop offset="0.7" stop-color="#f2e8e6"/><stop offset="1" stop-color="#e2d2d0"/></radialGradient>
</defs>
<g clip-path="url(#vclip)">
<g filter="url(#vb1)">
 <rect x="-5" y="-5" width="240" height="140" fill="#9c958b"/>
 <!-- left wall -->
 <polygon points="-5,18 80,18 80,60 -5,58" fill="#8e8983"/>
 <polygon points="-5,56 70,50 70,80 -5,80" fill="#aea58e"/>
 <!-- bright soffit left -->
 <polygon points="-5,8.6 90,7 90,19.5 -5,19.5" fill="#ebe7e0"/>
 <!-- bright ceiling right -->
 <polygon points="90,7 235,4 235,20 146,28 110,30" fill="#efece6"/>
 <!-- top dark band -->
 <polygon points="-5,-5 235,-5 235,4 -5,8.6" fill="#a39b8f"/>
 <!-- windows -->
 <polygon points="146,28 235,20 235,78 146,78" fill="url(#wing)"/>
 <g stroke="#c4c9ce" stroke-width="1.8" opacity="0.8">
  <line x1="159" y1="30" x2="159" y2="70"/><line x1="181" y1="28" x2="181" y2="70"/>
  <line x1="192.5" y1="27" x2="194" y2="80"/><line x1="199" y1="26" x2="201" y2="84"/>
  <line x1="210" y1="25" x2="212" y2="88"/><line x1="223.5" y1="23" x2="225.5" y2="92"/>
 </g>
 <polygon points="190,60 235,50 235,120 190,120" fill="#4a5058" opacity="0.6"/>
 <!-- audience -->
 <rect x="-5" y="66" width="75" height="45" fill="#a09276"/>
 <rect x="140" y="64" width="60" height="50" fill="#8c7456"/>
 <ellipse cx="30" cy="78" rx="8" ry="6" fill="#bfb19a"/>
 <ellipse cx="15" cy="92" rx="10" ry="7" fill="#4e4034"/>
 <ellipse cx="3" cy="95" rx="7" ry="8" fill="#b8583c"/>
 <ellipse cx="45" cy="90" rx="12" ry="8" fill="#a88c64"/>
 <ellipse cx="55" cy="72" rx="7" ry="5" fill="#6a5646"/>
 <ellipse cx="163" cy="71" rx="10" ry="6" fill="#cc9640"/>
 <ellipse cx="178" cy="68" rx="7" ry="5" fill="#d8a048"/>
 <ellipse cx="170" cy="82" rx="10" ry="6" fill="#6a4c38"/>
 <ellipse cx="200" cy="92" rx="12" ry="10" fill="#7a6450"/>
 <ellipse cx="218" cy="100" rx="10" ry="10" fill="#9a8060"/>
 <line x1="-5" y1="76.3" x2="235" y2="77.4" stroke="#6a5a48" stroke-width="1.6"/>
 <circle cx="34.3" cy="51" r="2.6" fill="#2a2420"/>
 <!-- shirt -->
 <path d="M-5 104 L30 92 L58 86 L70 84 L100 108 L140 84 L160 86 L200 102 L235 116 L235 135 L-5 135 Z" fill="url(#plaid)"/><path d="M-5 104 L30 92 L58 86 L70 84 L90 100 L60 135 L-5 135 Z" fill="#f0f4f6" opacity="0.3"/>
 <!-- hair -->
 <path d="M57 62 Q51 26 74 10 Q95 -1 121 3 Q146 8 153 30 Q159 52 155 74 L146 73 Q141 42 126 24 L82 24 Q67 42 67 68 Z" fill="#e3e0da"/>
 <path d="M111 3 Q138 4 150 22 Q160 45 156 73 L149 74 Q146 48 136 32 Q125 16 111 12 Z" fill="#eeebe6"/>
 <ellipse cx="61" cy="56" rx="5" ry="17" fill="#b9b4ad"/>
 <ellipse cx="152" cy="62" rx="4" ry="12" fill="#c8c3bc"/>
 <!-- face -->
 <path d="M70 36 Q80 19 108 20 Q131 22 139 37 Q147 62 143 92 Q138 117 110 121 Q82 119 72 96 Q64 64 70 36 Z" fill="url(#faceg)"/>
 <path d="M111 4 Q115 16 118 32" fill="none" stroke="#d9cbc7" stroke-width="2"/>
 <!-- beard -->
 <path d="M72 92 Q80 118 106 123 Q134 119 143 92 Q147 110 139 122 Q122 133 104 133 Q84 131 74 118 Z" fill="#e3e1df"/>
 <ellipse cx="106" cy="112" rx="24" ry="8" fill="#ecebea"/>
 <!-- cheeks -->
 <ellipse cx="80" cy="84" rx="6" ry="12" fill="#e6c2c4" opacity="0.45"/>
 <ellipse cx="137" cy="82" rx="5" ry="12" fill="#e4bec0" opacity="0.45"/>
</g>
<g filter="url(#vb1)">
 <!-- eyebrows -->
 <path d="M71 50 Q84 46 97 49" fill="none" stroke="#a89a96" stroke-width="2"/>
 <path d="M116 49 Q128 46 141 50" fill="none" stroke="#a89a96" stroke-width="2"/>
 <!-- glasses -->
 <path d="M68 54 Q88 51 112 54 Q112 63 107 66 Q88 68 72 65 Q68 60 68 54 Z" fill="none" stroke="#857e7a" stroke-width="1.2"/>
 <path d="M114 54 Q130 51 144 54 Q144 62 140 65 Q126 67 117 65 Q114 60 114 54 Z" fill="none" stroke="#857e7a" stroke-width="1.2"/>
 <line x1="60" y1="54" x2="68" y2="54.5" stroke="#5a5050" stroke-width="1.5"/>
 <line x1="144" y1="54" x2="151" y2="53.5" stroke="#857e7a" stroke-width="1.2"/>
 <!-- eyes -->
 <ellipse cx="89" cy="59.5" rx="7" ry="1.8" fill="#8a7272"/>
 <ellipse cx="129" cy="59.5" rx="6" ry="1.8" fill="#8a7272"/>
 <!-- nose -->
 <path d="M103 62 Q102 72 98 78 Q106 83 115 78 Q111 72 109 62" fill="#ecd2d2"/>
 <ellipse cx="101" cy="78.5" rx="3" ry="1.4" fill="#b48a8c"/>
 <ellipse cx="113" cy="78.5" rx="3" ry="1.4" fill="#b48a8c"/>
 <!-- mouth -->
 <ellipse cx="104" cy="97" rx="16" ry="5.5" fill="#dcaaae"/>
 <ellipse cx="104" cy="96.5" rx="12" ry="2.3" fill="#a0646a"/>
</g>
</g>
</svg>
<div style="position:absolute;left:7px;top:140.5px;width:133px;height:40px;border-radius:8px;background:rgba(20,20,20,0.5);"></div>
<div style="position:absolute;left:0;top:149px;width:229px;height:30px;background:#000;"></div>
<svg width="229" height="60" style="position:absolute;left:0;top:140px"><text x="15.4" y="18.8" font-family="'Liberation Sans', Arial, sans-serif" font-size="14.2" font-weight="bold" fill="#fff" textLength="120" lengthAdjust="spacingAndGlyphs">Alexander Golub</text></svg>
</div>

<div style="position:absolute;left:108.7px;top:41.2px;width:46px;height:34.5px;border-radius:7px;background:#484848;"></div>
<svg width="46" height="35" style="position:absolute;left:108.7px;top:41.2px" viewBox="0 0 46 35">
 <g filter="url(#mbl)">
 <rect x="19.3" y="6.4" width="9" height="13.4" rx="4.5" fill="#f2333d"/>
 <path d="M20.6 16 H27 L26.6 25.6 H21 Z" fill="#ec3a48"/>
 <rect x="19.6" y="25.6" width="8.3" height="1.6" fill="#e84452"/>
 <line x1="10.6" y1="26.2" x2="34.6" y2="6.4" stroke="#484848" stroke-width="1.6"/>
 <line x1="11.3" y1="27.2" x2="35.3" y2="7.3" stroke="#ec5060" stroke-width="2"/>
 </g>
 <defs><filter id="mbl"><feGaussianBlur stdDeviation="0.45"/></filter></defs>
</svg>
</body></html>
